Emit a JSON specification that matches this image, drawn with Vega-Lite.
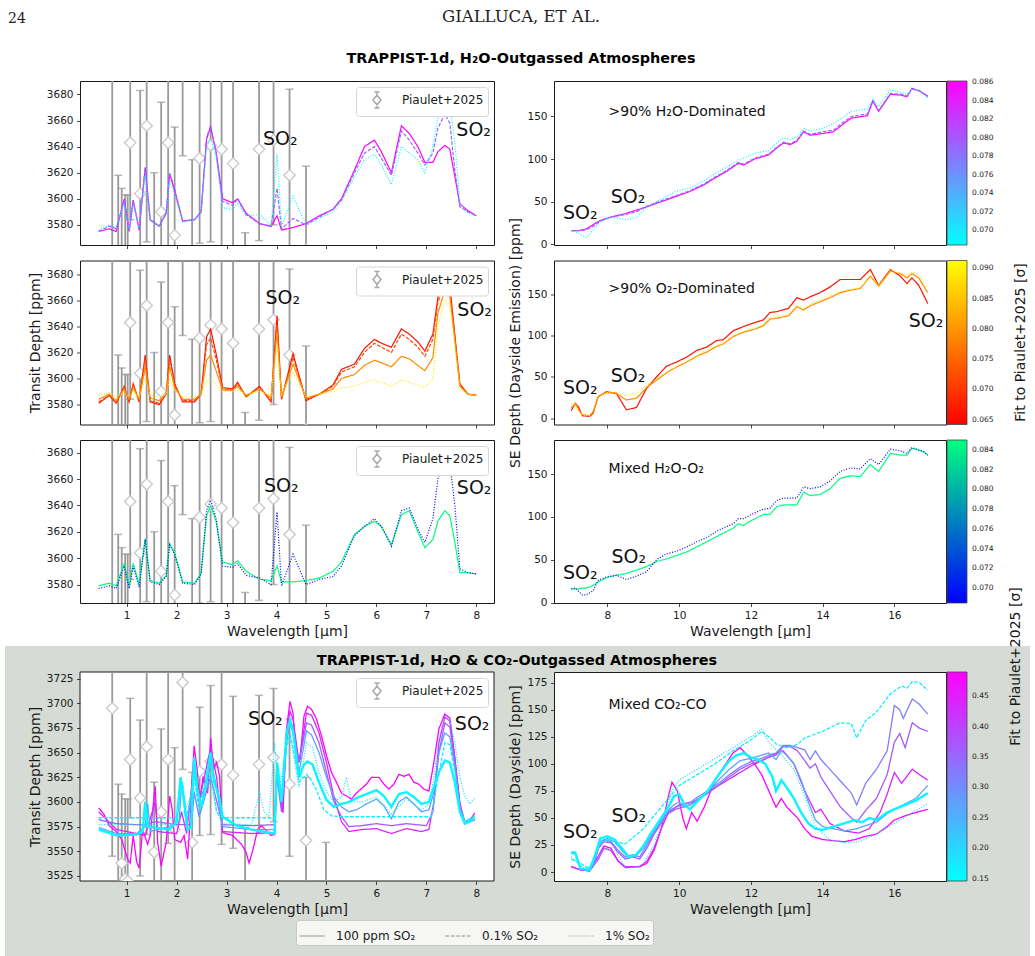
{
  "$schema": "https://vega.github.io/schema/vega-lite/v6.json",
  "background": "white",
  "padding": {"top": 8, "left": 5, "right": 5, "bottom": 0},
  "config": {
    "font": "DejaVu Sans",
    "view": {"stroke": "#1a1a1a", "strokeWidth": 1},
    "axis": {"grid": false, "domain": false, "labelFont": "DejaVu Sans", "labelFontSize": 10.5, "labelColor": "#1a1a1a", "labelOverlap": false, "titleFont": "DejaVu Sans", "titleFontSize": 14, "titleFontWeight": "normal", "titleColor": "#1a1a1a", "tickColor": "#1a1a1a", "tickSize": 3.5, "tickWidth": 0.8, "labelPadding": 3.5, "titlePadding": 4},
    "legend": {"labelFont": "DejaVu Sans", "titleFont": "DejaVu Sans"},
    "title": {"font": "DejaVu Sans"}
  },
  "datasets": {
    "runs": [
      {"r": "1a", "s": "100 ppm SO₂", "f": 0.086},
      {"r": "1b", "s": "0.1% SO₂", "f": 0.079},
      {"r": "1c", "s": "1% SO₂", "f": 0.069},
      {"r": "2a", "s": "100 ppm SO₂", "f": 0.066},
      {"r": "2d", "s": "0.1% SO₂", "f": 0.072},
      {"r": "2b", "s": "100 ppm SO₂", "f": 0.079},
      {"r": "2c", "s": "1% SO₂", "f": 0.089},
      {"r": "3a", "s": "100 ppm SO₂", "f": 0.085},
      {"r": "3b", "s": "1% SO₂", "f": 0.069},
      {"r": "4a", "s": "100 ppm SO₂", "f": 0.485},
      {"r": "4h", "s": "100 ppm SO₂", "f": 0.44},
      {"r": "4b", "s": "100 ppm SO₂", "f": 0.37},
      {"r": "4g", "s": "100 ppm SO₂", "f": 0.32},
      {"r": "4c", "s": "100 ppm SO₂", "f": 0.27},
      {"r": "4d", "s": "100 ppm SO₂", "f": 0.16},
      {"r": "4e", "s": "0.1% SO₂", "f": 0.17},
      {"r": "4f", "s": "1% SO₂", "f": 0.19}
    ],
    "obs": [
      {"w": 0.71, "d": 3695, "lo": 3545, "hi": 3845},
      {"w": 0.83, "d": 3510, "lo": 3402, "hi": 3618},
      {"w": 0.90, "d": 3538, "lo": 3468, "hi": 3608},
      {"w": 0.97, "d": 3522, "lo": 3441, "hi": 3603},
      {"w": 1.02, "d": 3520, "lo": 3437, "hi": 3603},
      {"w": 1.07, "d": 3643, "lo": 3584, "hi": 3705},
      {"w": 1.27, "d": 3604, "lo": 3525, "hi": 3683},
      {"w": 1.40, "d": 3656, "lo": 3567, "hi": 3745},
      {"w": 1.55, "d": 3549, "lo": 3478, "hi": 3620},
      {"w": 1.69, "d": 3590, "lo": 3506, "hi": 3674},
      {"w": 1.83, "d": 3643, "lo": 3558, "hi": 3745},
      {"w": 1.96, "d": 3572, "lo": 3489, "hi": 3655},
      {"w": 2.12, "d": 3721, "lo": 3633, "hi": 3809},
      {"w": 2.31, "d": 3559, "lo": 3488, "hi": 3630},
      {"w": 2.46, "d": 3631, "lo": 3566, "hi": 3696},
      {"w": 2.68, "d": 3641, "lo": 3567, "hi": 3718},
      {"w": 2.90, "d": 3638, "lo": 3557, "hi": 3740},
      {"w": 3.13, "d": 3627, "lo": 3553, "hi": 3707},
      {"w": 3.37, "d": 3500, "lo": 3426, "hi": 3574},
      {"w": 3.65, "d": 3638, "lo": 3568, "hi": 3708},
      {"w": 3.94, "d": 3645, "lo": 3580, "hi": 3715},
      {"w": 4.26, "d": 3618, "lo": 3545, "hi": 3684},
      {"w": 4.59, "d": 3561, "lo": 3497, "hi": 3625},
      {"w": 4.99, "d": 3490, "lo": 3421, "hi": 3559}
    ],
    "t1": [
      {"r":"1a","w":0.44,"d":3575},{"r":"1a","w":0.65,"d":3577},{"r":"1a","w":0.79,"d":3575},{"r":"1a","w":0.95,"d":3600},{"r":"1a","w":1.05,"d":3575},{"r":"1a","w":1.13,"d":3599},{"r":"1a","w":1.25,"d":3576},{"r":"1a","w":1.37,"d":3624},{"r":"1a","w":1.47,"d":3584},{"r":"1a","w":1.65,"d":3579},{"r":"1a","w":1.79,"d":3589},{"r":"1a","w":1.86,"d":3619},{"r":"1a","w":1.96,"d":3606},{"r":"1a","w":2.12,"d":3583},{"r":"1a","w":2.36,"d":3584},{"r":"1a","w":2.49,"d":3590},{"r":"1a","w":2.60,"d":3646},{"r":"1a","w":2.68,"d":3655},{"r":"1a","w":2.79,"d":3636},{"r":"1a","w":2.92,"d":3600},{"r":"1a","w":3.12,"d":3597},{"r":"1a","w":3.22,"d":3600},{"r":"1a","w":3.39,"d":3589},{"r":"1a","w":3.66,"d":3581},{"r":"1a","w":3.89,"d":3579},{"r":"1a","w":4.01,"d":3587},{"r":"1a","w":4.10,"d":3576},{"r":"1a","w":4.33,"d":3578},{"r":"1a","w":4.59,"d":3581},{"r":"1a","w":4.86,"d":3587},{"r":"1a","w":5.13,"d":3592},{"r":"1a","w":5.30,"d":3600},{"r":"1a","w":5.56,"d":3622},{"r":"1a","w":5.76,"d":3640},{"r":"1a","w":5.96,"d":3645},{"r":"1a","w":6.10,"d":3636},{"r":"1a","w":6.30,"d":3620},{"r":"1a","w":6.50,"d":3656},{"r":"1a","w":6.66,"d":3650},{"r":"1a","w":6.83,"d":3640},{"r":"1a","w":6.97,"d":3628},{"r":"1a","w":7.13,"d":3628},{"r":"1a","w":7.23,"d":3636},{"r":"1a","w":7.37,"d":3641},{"r":"1a","w":7.47,"d":3638},{"r":"1a","w":7.57,"d":3617},{"r":"1a","w":7.67,"d":3596},{"r":"1a","w":7.83,"d":3591},{"r":"1a","w":8.00,"d":3587},
      {"r":"1b","w":0.44,"d":3575},{"r":"1b","w":0.65,"d":3579},{"r":"1b","w":0.79,"d":3577},{"r":"1b","w":0.95,"d":3599},{"r":"1b","w":1.05,"d":3576},{"r":"1b","w":1.13,"d":3598},{"r":"1b","w":1.25,"d":3577},{"r":"1b","w":1.37,"d":3624},{"r":"1b","w":1.47,"d":3584},{"r":"1b","w":1.65,"d":3579},{"r":"1b","w":1.79,"d":3589},{"r":"1b","w":1.86,"d":3620},{"r":"1b","w":1.96,"d":3608},{"r":"1b","w":2.12,"d":3583},{"r":"1b","w":2.36,"d":3584},{"r":"1b","w":2.49,"d":3590},{"r":"1b","w":2.60,"d":3647},{"r":"1b","w":2.68,"d":3656},{"r":"1b","w":2.79,"d":3635},{"r":"1b","w":2.92,"d":3598},{"r":"1b","w":3.12,"d":3595},{"r":"1b","w":3.22,"d":3600},{"r":"1b","w":3.39,"d":3588},{"r":"1b","w":3.66,"d":3581},{"r":"1b","w":3.89,"d":3579},{"r":"1b","w":4.01,"d":3608},{"r":"1b","w":4.10,"d":3577},{"r":"1b","w":4.33,"d":3585},{"r":"1b","w":4.59,"d":3580},{"r":"1b","w":4.86,"d":3586},{"r":"1b","w":5.13,"d":3592},{"r":"1b","w":5.30,"d":3599},{"r":"1b","w":5.56,"d":3620},{"r":"1b","w":5.76,"d":3635},{"r":"1b","w":5.96,"d":3640},{"r":"1b","w":6.10,"d":3631},{"r":"1b","w":6.30,"d":3618},{"r":"1b","w":6.50,"d":3652},{"r":"1b","w":6.66,"d":3645},{"r":"1b","w":6.83,"d":3635},{"r":"1b","w":6.97,"d":3626},{"r":"1b","w":7.13,"d":3635},{"r":"1b","w":7.23,"d":3654},{"r":"1b","w":7.37,"d":3665},{"r":"1b","w":7.47,"d":3658},{"r":"1b","w":7.57,"d":3622},{"r":"1b","w":7.67,"d":3594},{"r":"1b","w":7.83,"d":3590},{"r":"1b","w":8.00,"d":3587},
      {"r":"1c","w":0.44,"d":3576},{"r":"1c","w":0.65,"d":3580},{"r":"1c","w":0.79,"d":3578},{"r":"1c","w":0.95,"d":3597},{"r":"1c","w":1.05,"d":3577},{"r":"1c","w":1.13,"d":3596},{"r":"1c","w":1.25,"d":3578},{"r":"1c","w":1.37,"d":3618},{"r":"1c","w":1.47,"d":3583},{"r":"1c","w":1.65,"d":3579},{"r":"1c","w":1.79,"d":3588},{"r":"1c","w":1.86,"d":3614},{"r":"1c","w":1.96,"d":3604},{"r":"1c","w":2.12,"d":3582},{"r":"1c","w":2.36,"d":3584},{"r":"1c","w":2.49,"d":3589},{"r":"1c","w":2.60,"d":3640},{"r":"1c","w":2.68,"d":3646},{"r":"1c","w":2.79,"d":3632},{"r":"1c","w":2.92,"d":3593},{"r":"1c","w":3.12,"d":3592},{"r":"1c","w":3.22,"d":3597},{"r":"1c","w":3.39,"d":3587},{"r":"1c","w":3.66,"d":3588},{"r":"1c","w":3.89,"d":3580},{"r":"1c","w":4.01,"d":3634},{"r":"1c","w":4.10,"d":3579},{"r":"1c","w":4.33,"d":3602},{"r":"1c","w":4.59,"d":3580},{"r":"1c","w":4.86,"d":3585},{"r":"1c","w":5.13,"d":3590},{"r":"1c","w":5.30,"d":3598},{"r":"1c","w":5.56,"d":3617},{"r":"1c","w":5.76,"d":3630},{"r":"1c","w":5.96,"d":3634},{"r":"1c","w":6.10,"d":3626},{"r":"1c","w":6.30,"d":3611},{"r":"1c","w":6.50,"d":3640},{"r":"1c","w":6.66,"d":3635},{"r":"1c","w":6.83,"d":3630},{"r":"1c","w":6.97,"d":3620},{"r":"1c","w":7.13,"d":3640},{"r":"1c","w":7.23,"d":3662},{"r":"1c","w":7.37,"d":3676},{"r":"1c","w":7.47,"d":3672},{"r":"1c","w":7.57,"d":3643},{"r":"1c","w":7.67,"d":3597},{"r":"1c","w":7.83,"d":3589},{"r":"1c","w":8.00,"d":3587}
    ],
    "t2": [
      {"r":"2a","w":0.44,"d":3581},{"r":"2a","w":0.65,"d":3587},{"r":"2a","w":0.79,"d":3581},{"r":"2a","w":0.95,"d":3594},{"r":"2a","w":1.05,"d":3582},{"r":"2a","w":1.13,"d":3596},{"r":"2a","w":1.25,"d":3582},{"r":"2a","w":1.37,"d":3618},{"r":"2a","w":1.47,"d":3582},{"r":"2a","w":1.65,"d":3580},{"r":"2a","w":1.79,"d":3588},{"r":"2a","w":1.86,"d":3618},{"r":"2a","w":1.96,"d":3596},{"r":"2a","w":2.12,"d":3582},{"r":"2a","w":2.36,"d":3582},{"r":"2a","w":2.49,"d":3588},{"r":"2a","w":2.60,"d":3632},{"r":"2a","w":2.68,"d":3638},{"r":"2a","w":2.79,"d":3619},{"r":"2a","w":2.92,"d":3593},{"r":"2a","w":3.12,"d":3592},{"r":"2a","w":3.22,"d":3597},{"r":"2a","w":3.39,"d":3586},{"r":"2a","w":3.66,"d":3594},{"r":"2a","w":3.89,"d":3582},{"r":"2a","w":4.01,"d":3648},{"r":"2a","w":4.10,"d":3584},{"r":"2a","w":4.33,"d":3619},{"r":"2a","w":4.59,"d":3583},{"r":"2a","w":4.86,"d":3588},{"r":"2a","w":5.13,"d":3595},{"r":"2a","w":5.30,"d":3607},{"r":"2a","w":5.56,"d":3611},{"r":"2a","w":5.76,"d":3623},{"r":"2a","w":5.96,"d":3630},{"r":"2a","w":6.10,"d":3627},{"r":"2a","w":6.30,"d":3624},{"r":"2a","w":6.50,"d":3638},{"r":"2a","w":6.66,"d":3634},{"r":"2a","w":6.83,"d":3628},{"r":"2a","w":6.97,"d":3621},{"r":"2a","w":7.13,"d":3634},{"r":"2a","w":7.23,"d":3662},{"r":"2a","w":7.37,"d":3677},{"r":"2a","w":7.47,"d":3671},{"r":"2a","w":7.57,"d":3633},{"r":"2a","w":7.67,"d":3596},{"r":"2a","w":7.83,"d":3588},{"r":"2a","w":8.00,"d":3587},
      {"r":"2d","w":0.44,"d":3582},{"r":"2d","w":0.65,"d":3587},{"r":"2d","w":0.79,"d":3582},{"r":"2d","w":0.95,"d":3593},{"r":"2d","w":1.05,"d":3583},{"r":"2d","w":1.13,"d":3595},{"r":"2d","w":1.25,"d":3583},{"r":"2d","w":1.37,"d":3615},{"r":"2d","w":1.47,"d":3583},{"r":"2d","w":1.65,"d":3581},{"r":"2d","w":1.79,"d":3588},{"r":"2d","w":1.86,"d":3615},{"r":"2d","w":1.96,"d":3595},{"r":"2d","w":2.12,"d":3583},{"r":"2d","w":2.36,"d":3583},{"r":"2d","w":2.49,"d":3588},{"r":"2d","w":2.60,"d":3626},{"r":"2d","w":2.68,"d":3631},{"r":"2d","w":2.79,"d":3615},{"r":"2d","w":2.92,"d":3592},{"r":"2d","w":3.12,"d":3591},{"r":"2d","w":3.22,"d":3596},{"r":"2d","w":3.39,"d":3586},{"r":"2d","w":3.66,"d":3593},{"r":"2d","w":3.89,"d":3583},{"r":"2d","w":4.01,"d":3642},{"r":"2d","w":4.10,"d":3585},{"r":"2d","w":4.33,"d":3616},{"r":"2d","w":4.59,"d":3584},{"r":"2d","w":4.86,"d":3588},{"r":"2d","w":5.13,"d":3594},{"r":"2d","w":5.30,"d":3605},{"r":"2d","w":5.56,"d":3609},{"r":"2d","w":5.76,"d":3620},{"r":"2d","w":5.96,"d":3627},{"r":"2d","w":6.10,"d":3624},{"r":"2d","w":6.30,"d":3620},{"r":"2d","w":6.50,"d":3634},{"r":"2d","w":6.66,"d":3630},{"r":"2d","w":6.83,"d":3624},{"r":"2d","w":6.97,"d":3617},{"r":"2d","w":7.13,"d":3630},{"r":"2d","w":7.23,"d":3658},{"r":"2d","w":7.37,"d":3674},{"r":"2d","w":7.47,"d":3668},{"r":"2d","w":7.57,"d":3632},{"r":"2d","w":7.67,"d":3595},{"r":"2d","w":7.83,"d":3588},{"r":"2d","w":8.00,"d":3587},
      {"r":"2b","w":0.44,"d":3584},{"r":"2b","w":0.65,"d":3588},{"r":"2b","w":0.79,"d":3583},{"r":"2b","w":0.95,"d":3592},{"r":"2b","w":1.05,"d":3584},{"r":"2b","w":1.13,"d":3593},{"r":"2b","w":1.25,"d":3584},{"r":"2b","w":1.37,"d":3609},{"r":"2b","w":1.47,"d":3585},{"r":"2b","w":1.65,"d":3583},{"r":"2b","w":1.79,"d":3588},{"r":"2b","w":1.86,"d":3609},{"r":"2b","w":1.96,"d":3593},{"r":"2b","w":2.12,"d":3584},{"r":"2b","w":2.36,"d":3584},{"r":"2b","w":2.49,"d":3588},{"r":"2b","w":2.60,"d":3614},{"r":"2b","w":2.68,"d":3618},{"r":"2b","w":2.79,"d":3606},{"r":"2b","w":2.92,"d":3591},{"r":"2b","w":3.12,"d":3591},{"r":"2b","w":3.22,"d":3594},{"r":"2b","w":3.39,"d":3587},{"r":"2b","w":3.66,"d":3592},{"r":"2b","w":3.89,"d":3585},{"r":"2b","w":4.01,"d":3636},{"r":"2b","w":4.10,"d":3586},{"r":"2b","w":4.33,"d":3611},{"r":"2b","w":4.59,"d":3585},{"r":"2b","w":4.86,"d":3588},{"r":"2b","w":5.13,"d":3592},{"r":"2b","w":5.30,"d":3600},{"r":"2b","w":5.56,"d":3603},{"r":"2b","w":5.76,"d":3610},{"r":"2b","w":5.96,"d":3614},{"r":"2b","w":6.10,"d":3612},{"r":"2b","w":6.30,"d":3609},{"r":"2b","w":6.50,"d":3617},{"r":"2b","w":6.66,"d":3615},{"r":"2b","w":6.83,"d":3610},{"r":"2b","w":6.97,"d":3606},{"r":"2b","w":7.13,"d":3616},{"r":"2b","w":7.23,"d":3650},{"r":"2b","w":7.37,"d":3668},{"r":"2b","w":7.47,"d":3663},{"r":"2b","w":7.57,"d":3629},{"r":"2b","w":7.67,"d":3594},{"r":"2b","w":7.83,"d":3588},{"r":"2b","w":8.00,"d":3587},
      {"r":"2c","w":0.44,"d":3587},{"r":"2c","w":0.65,"d":3589},{"r":"2c","w":0.79,"d":3586},{"r":"2c","w":0.95,"d":3589},{"r":"2c","w":1.05,"d":3586},{"r":"2c","w":1.13,"d":3590},{"r":"2c","w":1.25,"d":3586},{"r":"2c","w":1.37,"d":3600},{"r":"2c","w":1.47,"d":3587},{"r":"2c","w":1.65,"d":3586},{"r":"2c","w":1.79,"d":3588},{"r":"2c","w":1.86,"d":3600},{"r":"2c","w":1.96,"d":3591},{"r":"2c","w":2.12,"d":3586},{"r":"2c","w":2.36,"d":3586},{"r":"2c","w":2.49,"d":3588},{"r":"2c","w":2.60,"d":3598},{"r":"2c","w":2.68,"d":3600},{"r":"2c","w":2.79,"d":3595},{"r":"2c","w":2.92,"d":3590},{"r":"2c","w":3.12,"d":3590},{"r":"2c","w":3.22,"d":3591},{"r":"2c","w":3.39,"d":3588},{"r":"2c","w":3.66,"d":3590},{"r":"2c","w":3.89,"d":3587},{"r":"2c","w":4.01,"d":3625},{"r":"2c","w":4.10,"d":3588},{"r":"2c","w":4.33,"d":3605},{"r":"2c","w":4.59,"d":3586},{"r":"2c","w":4.86,"d":3588},{"r":"2c","w":5.13,"d":3590},{"r":"2c","w":5.30,"d":3593},{"r":"2c","w":5.56,"d":3594},{"r":"2c","w":5.76,"d":3597},{"r":"2c","w":5.96,"d":3599},{"r":"2c","w":6.10,"d":3597},{"r":"2c","w":6.30,"d":3594},{"r":"2c","w":6.50,"d":3599},{"r":"2c","w":6.66,"d":3597},{"r":"2c","w":6.83,"d":3595},{"r":"2c","w":6.97,"d":3593},{"r":"2c","w":7.13,"d":3600},{"r":"2c","w":7.23,"d":3640},{"r":"2c","w":7.37,"d":3660},{"r":"2c","w":7.47,"d":3656},{"r":"2c","w":7.57,"d":3625},{"r":"2c","w":7.67,"d":3593},{"r":"2c","w":7.83,"d":3588},{"r":"2c","w":8.00,"d":3587}
    ],
    "t3": [
      {"r":"3a","w":0.44,"d":3579},{"r":"3a","w":0.65,"d":3581},{"r":"3a","w":0.79,"d":3579},{"r":"3a","w":0.95,"d":3596},{"r":"3a","w":1.05,"d":3579},{"r":"3a","w":1.13,"d":3596},{"r":"3a","w":1.25,"d":3580},{"r":"3a","w":1.37,"d":3615},{"r":"3a","w":1.47,"d":3583},{"r":"3a","w":1.65,"d":3581},{"r":"3a","w":1.79,"d":3587},{"r":"3a","w":1.86,"d":3611},{"r":"3a","w":1.96,"d":3604},{"r":"3a","w":2.12,"d":3582},{"r":"3a","w":2.36,"d":3581},{"r":"3a","w":2.49,"d":3589},{"r":"3a","w":2.60,"d":3632},{"r":"3a","w":2.68,"d":3640},{"r":"3a","w":2.79,"d":3628},{"r":"3a","w":2.92,"d":3597},{"r":"3a","w":3.12,"d":3595},{"r":"3a","w":3.22,"d":3598},{"r":"3a","w":3.39,"d":3590},{"r":"3a","w":3.66,"d":3584},{"r":"3a","w":3.89,"d":3583},{"r":"3a","w":4.01,"d":3594},{"r":"3a","w":4.10,"d":3582},{"r":"3a","w":4.33,"d":3582},{"r":"3a","w":4.59,"d":3583},{"r":"3a","w":4.86,"d":3585},{"r":"3a","w":5.13,"d":3590},{"r":"3a","w":5.30,"d":3597},{"r":"3a","w":5.56,"d":3618},{"r":"3a","w":5.76,"d":3624},{"r":"3a","w":5.96,"d":3628},{"r":"3a","w":6.10,"d":3624},{"r":"3a","w":6.30,"d":3610},{"r":"3a","w":6.50,"d":3633},{"r":"3a","w":6.66,"d":3636},{"r":"3a","w":6.83,"d":3620},{"r":"3a","w":6.97,"d":3608},{"r":"3a","w":7.13,"d":3614},{"r":"3a","w":7.23,"d":3628},{"r":"3a","w":7.37,"d":3636},{"r":"3a","w":7.47,"d":3632},{"r":"3a","w":7.57,"d":3612},{"r":"3a","w":7.67,"d":3589},{"r":"3a","w":7.83,"d":3589},{"r":"3a","w":8.00,"d":3588},
      {"r":"3b","w":0.44,"d":3577},{"r":"3b","w":0.65,"d":3579},{"r":"3b","w":0.79,"d":3577},{"r":"3b","w":0.95,"d":3594},{"r":"3b","w":1.05,"d":3577},{"r":"3b","w":1.13,"d":3594},{"r":"3b","w":1.25,"d":3578},{"r":"3b","w":1.37,"d":3614},{"r":"3b","w":1.47,"d":3582},{"r":"3b","w":1.65,"d":3580},{"r":"3b","w":1.79,"d":3586},{"r":"3b","w":1.86,"d":3610},{"r":"3b","w":1.96,"d":3603},{"r":"3b","w":2.12,"d":3581},{"r":"3b","w":2.36,"d":3580},{"r":"3b","w":2.49,"d":3588},{"r":"3b","w":2.60,"d":3636},{"r":"3b","w":2.68,"d":3644},{"r":"3b","w":2.79,"d":3630},{"r":"3b","w":2.92,"d":3594},{"r":"3b","w":3.12,"d":3593},{"r":"3b","w":3.22,"d":3596},{"r":"3b","w":3.39,"d":3587},{"r":"3b","w":3.66,"d":3585},{"r":"3b","w":3.89,"d":3580},{"r":"3b","w":4.01,"d":3635},{"r":"3b","w":4.10,"d":3579},{"r":"3b","w":4.33,"d":3603},{"r":"3b","w":4.59,"d":3580},{"r":"3b","w":4.86,"d":3584},{"r":"3b","w":5.13,"d":3586},{"r":"3b","w":5.30,"d":3594},{"r":"3b","w":5.56,"d":3617},{"r":"3b","w":5.76,"d":3624},{"r":"3b","w":5.96,"d":3630},{"r":"3b","w":6.10,"d":3624},{"r":"3b","w":6.30,"d":3609},{"r":"3b","w":6.50,"d":3636},{"r":"3b","w":6.66,"d":3638},{"r":"3b","w":6.83,"d":3622},{"r":"3b","w":6.97,"d":3612},{"r":"3b","w":7.13,"d":3630},{"r":"3b","w":7.23,"d":3660},{"r":"3b","w":7.37,"d":3677},{"r":"3b","w":7.47,"d":3672},{"r":"3b","w":7.57,"d":3640},{"r":"3b","w":7.67,"d":3592},{"r":"3b","w":7.83,"d":3589},{"r":"3b","w":8.00,"d":3588}
    ],
    "t4": [
      {"r":"4a","w":0.44,"d":3594},{"r":"4a","w":0.55,"d":3587},{"r":"4a","w":0.65,"d":3576},{"r":"4a","w":0.79,"d":3570},{"r":"4a","w":0.90,"d":3562},{"r":"4a","w":1.02,"d":3542},{"r":"4a","w":1.07,"d":3538},{"r":"4a","w":1.13,"d":3566},{"r":"4a","w":1.20,"d":3539},{"r":"4a","w":1.25,"d":3533},{"r":"4a","w":1.32,"d":3572},{"r":"4a","w":1.42,"d":3557},{"r":"4a","w":1.47,"d":3566},{"r":"4a","w":1.57,"d":3616},{"r":"4a","w":1.62,"d":3559},{"r":"4a","w":1.69,"d":3535},{"r":"4a","w":1.79,"d":3559},{"r":"4a","w":1.86,"d":3606},{"r":"4a","w":1.91,"d":3593},{"r":"4a","w":1.96,"d":3562},{"r":"4a","w":2.08,"d":3559},{"r":"4a","w":2.15,"d":3566},{"r":"4a","w":2.22,"d":3542},{"r":"4a","w":2.29,"d":3599},{"r":"4a","w":2.35,"d":3657},{"r":"4a","w":2.41,"d":3633},{"r":"4a","w":2.46,"d":3599},{"r":"4a","w":2.53,"d":3626},{"r":"4a","w":2.62,"d":3609},{"r":"4a","w":2.68,"d":3665},{"r":"4a","w":2.74,"d":3633},{"r":"4a","w":2.80,"d":3640},{"r":"4a","w":2.86,"d":3626},{"r":"4a","w":2.92,"d":3569},{"r":"4a","w":3.12,"d":3566},{"r":"4a","w":3.30,"d":3557},{"r":"4a","w":3.39,"d":3549},{"r":"4a","w":3.45,"d":3538},{"r":"4a","w":3.53,"d":3552},{"r":"4a","w":3.62,"d":3572},{"r":"4a","w":3.70,"d":3576},{"r":"4a","w":3.89,"d":3566},{"r":"4a","w":3.96,"d":3567},{"r":"4a","w":4.01,"d":3630},{"r":"4a","w":4.06,"d":3616},{"r":"4a","w":4.13,"d":3589},{"r":"4a","w":4.20,"d":3674},{"r":"4a","w":4.27,"d":3702},{"r":"4a","w":4.33,"d":3690},{"r":"4a","w":4.40,"d":3640},{"r":"4a","w":4.47,"d":3643},{"r":"4a","w":4.55,"d":3687},{"r":"4a","w":4.62,"d":3697},{"r":"4a","w":4.70,"d":3694},{"r":"4a","w":4.80,"d":3684},{"r":"4a","w":4.90,"d":3667},{"r":"4a","w":5.00,"d":3647},{"r":"4a","w":5.10,"d":3630},{"r":"4a","w":5.20,"d":3620},{"r":"4a","w":5.30,"d":3609},{"r":"4a","w":5.40,"d":3606},{"r":"4a","w":5.50,"d":3603},{"r":"4a","w":5.60,"d":3609},{"r":"4a","w":5.80,"d":3618},{"r":"4a","w":5.90,"d":3625},{"r":"4a","w":6.05,"d":3625},{"r":"4a","w":6.15,"d":3618},{"r":"4a","w":6.25,"d":3613},{"r":"4a","w":6.35,"d":3618},{"r":"4a","w":6.45,"d":3628},{"r":"4a","w":6.55,"d":3626},{"r":"4a","w":6.65,"d":3628},{"r":"4a","w":6.75,"d":3620},{"r":"4a","w":6.85,"d":3618},{"r":"4a","w":6.95,"d":3613},{"r":"4a","w":7.05,"d":3611},{"r":"4a","w":7.15,"d":3640},{"r":"4a","w":7.25,"d":3674},{"r":"4a","w":7.37,"d":3689},{"r":"4a","w":7.47,"d":3685},{"r":"4a","w":7.57,"d":3643},{"r":"4a","w":7.67,"d":3599},{"r":"4a","w":7.77,"d":3579},{"r":"4a","w":7.87,"d":3581},{"r":"4a","w":7.97,"d":3589},
      {"r":"4h","w":0.44,"d":3590},{"r":"4h","w":0.80,"d":3572},{"r":"4h","w":1.20,"d":3568},{"r":"4h","w":1.37,"d":3566},{"r":"4h","w":1.57,"d":3600},{"r":"4h","w":1.62,"d":3570},{"r":"4h","w":2.00,"d":3568},{"r":"4h","w":2.10,"d":3590},{"r":"4h","w":2.20,"d":3568},{"r":"4h","w":2.35,"d":3640},{"r":"4h","w":2.45,"d":3600},{"r":"4h","w":2.68,"d":3655},{"r":"4h","w":2.80,"d":3625},{"r":"4h","w":2.92,"d":3570},{"r":"4h","w":3.50,"d":3568},{"r":"4h","w":3.96,"d":3569},{"r":"4h","w":4.01,"d":3632},{"r":"4h","w":4.10,"d":3595},{"r":"4h","w":4.20,"d":3668},{"r":"4h","w":4.27,"d":3692},{"r":"4h","w":4.33,"d":3684},{"r":"4h","w":4.45,"d":3640},{"r":"4h","w":4.60,"d":3690},{"r":"4h","w":4.70,"d":3688},{"r":"4h","w":4.85,"d":3670},{"r":"4h","w":5.00,"d":3640},{"r":"4h","w":5.15,"d":3605},{"r":"4h","w":5.30,"d":3580},{"r":"4h","w":5.45,"d":3570},{"r":"4h","w":5.70,"d":3572},{"r":"4h","w":6.00,"d":3573},{"r":"4h","w":6.30,"d":3568},{"r":"4h","w":6.60,"d":3573},{"r":"4h","w":6.90,"d":3570},{"r":"4h","w":7.05,"d":3572},{"r":"4h","w":7.15,"d":3600},{"r":"4h","w":7.25,"d":3660},{"r":"4h","w":7.37,"d":3686},{"r":"4h","w":7.47,"d":3682},{"r":"4h","w":7.57,"d":3645},{"r":"4h","w":7.67,"d":3598},{"r":"4h","w":7.77,"d":3578},{"r":"4h","w":7.97,"d":3582},
      {"r":"4b","w":0.44,"d":3582},{"r":"4b","w":0.80,"d":3578},{"r":"4b","w":1.20,"d":3577},{"r":"4b","w":1.37,"d":3577},{"r":"4b","w":1.57,"d":3580},{"r":"4b","w":2.00,"d":3577},{"r":"4b","w":2.30,"d":3577},{"r":"4b","w":2.35,"d":3610},{"r":"4b","w":2.45,"d":3585},{"r":"4b","w":2.68,"d":3625},{"r":"4b","w":2.78,"d":3605},{"r":"4b","w":2.92,"d":3577},{"r":"4b","w":3.50,"d":3576},{"r":"4b","w":3.96,"d":3577},{"r":"4b","w":4.01,"d":3625},{"r":"4b","w":4.10,"d":3590},{"r":"4b","w":4.20,"d":3660},{"r":"4b","w":4.27,"d":3683},{"r":"4b","w":4.33,"d":3675},{"r":"4b","w":4.45,"d":3640},{"r":"4b","w":4.60,"d":3680},{"r":"4b","w":4.70,"d":3678},{"r":"4b","w":4.85,"d":3660},{"r":"4b","w":5.00,"d":3630},{"r":"4b","w":5.15,"d":3600},{"r":"4b","w":5.30,"d":3585},{"r":"4b","w":5.45,"d":3575},{"r":"4b","w":5.70,"d":3576},{"r":"4b","w":6.00,"d":3578},{"r":"4b","w":6.30,"d":3576},{"r":"4b","w":6.60,"d":3578},{"r":"4b","w":7.00,"d":3576},{"r":"4b","w":7.13,"d":3590},{"r":"4b","w":7.25,"d":3650},{"r":"4b","w":7.37,"d":3680},{"r":"4b","w":7.47,"d":3676},{"r":"4b","w":7.57,"d":3640},{"r":"4b","w":7.67,"d":3595},{"r":"4b","w":7.77,"d":3578},{"r":"4b","w":7.97,"d":3582},
      {"r":"4c","w":0.44,"d":3574},{"r":"4c","w":0.80,"d":3568},{"r":"4c","w":1.20,"d":3568},{"r":"4c","w":1.37,"d":3575},{"r":"4c","w":1.42,"d":3598},{"r":"4c","w":1.47,"d":3570},{"r":"4c","w":1.86,"d":3575},{"r":"4c","w":2.05,"d":3580},{"r":"4c","w":2.10,"d":3620},{"r":"4c","w":2.20,"d":3575},{"r":"4c","w":2.35,"d":3630},{"r":"4c","w":2.45,"d":3600},{"r":"4c","w":2.60,"d":3620},{"r":"4c","w":2.68,"d":3640},{"r":"4c","w":2.78,"d":3620},{"r":"4c","w":2.92,"d":3575},{"r":"4c","w":3.50,"d":3572},{"r":"4c","w":3.96,"d":3572},{"r":"4c","w":4.01,"d":3640},{"r":"4c","w":4.10,"d":3600},{"r":"4c","w":4.20,"d":3665},{"r":"4c","w":4.27,"d":3680},{"r":"4c","w":4.33,"d":3670},{"r":"4c","w":4.45,"d":3630},{"r":"4c","w":4.60,"d":3672},{"r":"4c","w":4.70,"d":3668},{"r":"4c","w":4.85,"d":3650},{"r":"4c","w":5.00,"d":3625},{"r":"4c","w":5.15,"d":3605},{"r":"4c","w":5.30,"d":3595},{"r":"4c","w":5.45,"d":3590},{"r":"4c","w":5.60,"d":3592},{"r":"4c","w":5.80,"d":3598},{"r":"4c","w":6.00,"d":3603},{"r":"4c","w":6.15,"d":3596},{"r":"4c","w":6.30,"d":3583},{"r":"4c","w":6.45,"d":3600},{"r":"4c","w":6.60,"d":3605},{"r":"4c","w":6.75,"d":3598},{"r":"4c","w":6.90,"d":3590},{"r":"4c","w":7.05,"d":3592},{"r":"4c","w":7.15,"d":3610},{"r":"4c","w":7.25,"d":3650},{"r":"4c","w":7.37,"d":3670},{"r":"4c","w":7.47,"d":3666},{"r":"4c","w":7.57,"d":3635},{"r":"4c","w":7.67,"d":3595},{"r":"4c","w":7.77,"d":3580},{"r":"4c","w":7.97,"d":3585},
      {"r":"4d","w":0.44,"d":3572},{"r":"4d","w":0.80,"d":3566},{"r":"4d","w":1.20,"d":3567},{"r":"4d","w":1.32,"d":3570},{"r":"4d","w":1.37,"d":3600},{"r":"4d","w":1.42,"d":3575},{"r":"4d","w":1.86,"d":3572},{"r":"4d","w":2.00,"d":3580},{"r":"4d","w":2.08,"d":3625},{"r":"4d","w":2.15,"d":3600},{"r":"4d","w":2.22,"d":3572},{"r":"4d","w":2.29,"d":3575},{"r":"4d","w":2.35,"d":3645},{"r":"4d","w":2.42,"d":3610},{"r":"4d","w":2.50,"d":3595},{"r":"4d","w":2.60,"d":3625},{"r":"4d","w":2.68,"d":3650},{"r":"4d","w":2.75,"d":3620},{"r":"4d","w":2.85,"d":3605},{"r":"4d","w":2.92,"d":3585},{"r":"4d","w":3.20,"d":3576},{"r":"4d","w":3.50,"d":3572},{"r":"4d","w":3.96,"d":3568},{"r":"4d","w":4.01,"d":3640},{"r":"4d","w":4.10,"d":3600},{"r":"4d","w":4.20,"d":3670},{"r":"4d","w":4.27,"d":3683},{"r":"4d","w":4.33,"d":3672},{"r":"4d","w":4.45,"d":3625},{"r":"4d","w":4.55,"d":3638},{"r":"4d","w":4.62,"d":3641},{"r":"4d","w":4.72,"d":3638},{"r":"4d","w":4.85,"d":3620},{"r":"4d","w":5.00,"d":3602},{"r":"4d","w":5.15,"d":3595},{"r":"4d","w":5.30,"d":3598},{"r":"4d","w":5.45,"d":3600},{"r":"4d","w":5.60,"d":3604},{"r":"4d","w":5.80,"d":3608},{"r":"4d","w":6.00,"d":3612},{"r":"4d","w":6.15,"d":3606},{"r":"4d","w":6.30,"d":3595},{"r":"4d","w":6.45,"d":3608},{"r":"4d","w":6.60,"d":3610},{"r":"4d","w":6.75,"d":3605},{"r":"4d","w":6.90,"d":3598},{"r":"4d","w":7.05,"d":3600},{"r":"4d","w":7.15,"d":3615},{"r":"4d","w":7.25,"d":3630},{"r":"4d","w":7.37,"d":3642},{"r":"4d","w":7.47,"d":3640},{"r":"4d","w":7.57,"d":3620},{"r":"4d","w":7.67,"d":3590},{"r":"4d","w":7.77,"d":3578},{"r":"4d","w":7.97,"d":3583},
      {"r":"4e","w":0.44,"d":3584},{"r":"4e","w":2.00,"d":3584},{"r":"4e","w":2.05,"d":3600},{"r":"4e","w":2.12,"d":3620},{"r":"4e","w":2.20,"d":3584},{"r":"4e","w":2.35,"d":3625},{"r":"4e","w":2.45,"d":3590},{"r":"4e","w":2.68,"d":3630},{"r":"4e","w":2.80,"d":3590},{"r":"4e","w":2.92,"d":3584},{"r":"4e","w":3.96,"d":3584},{"r":"4e","w":4.01,"d":3640},{"r":"4e","w":4.10,"d":3600},{"r":"4e","w":4.20,"d":3655},{"r":"4e","w":4.27,"d":3668},{"r":"4e","w":4.33,"d":3655},{"r":"4e","w":4.45,"d":3620},{"r":"4e","w":4.60,"d":3628},{"r":"4e","w":4.70,"d":3622},{"r":"4e","w":4.80,"d":3612},{"r":"4e","w":4.95,"d":3592},{"r":"4e","w":5.10,"d":3586},{"r":"4e","w":5.30,"d":3585},{"r":"4e","w":7.10,"d":3585},{"r":"4e","w":7.20,"d":3615},{"r":"4e","w":7.37,"d":3660},{"r":"4e","w":7.47,"d":3658},{"r":"4e","w":7.57,"d":3630},{"r":"4e","w":7.67,"d":3592},{"r":"4e","w":7.77,"d":3580},{"r":"4e","w":7.97,"d":3586},
      {"r":"4f","w":0.44,"d":3577},{"r":"4f","w":2.00,"d":3577},{"r":"4f","w":2.35,"d":3610},{"r":"4f","w":2.45,"d":3585},{"r":"4f","w":2.68,"d":3625},{"r":"4f","w":2.80,"d":3590},{"r":"4f","w":2.92,"d":3578},{"r":"4f","w":3.50,"d":3577},{"r":"4f","w":3.66,"d":3610},{"r":"4f","w":3.75,"d":3590},{"r":"4f","w":3.85,"d":3585},{"r":"4f","w":3.96,"d":3660},{"r":"4f","w":4.05,"d":3610},{"r":"4f","w":4.20,"d":3660},{"r":"4f","w":4.27,"d":3668},{"r":"4f","w":4.33,"d":3650},{"r":"4f","w":4.45,"d":3615},{"r":"4f","w":4.60,"d":3660},{"r":"4f","w":4.72,"d":3655},{"r":"4f","w":4.85,"d":3630},{"r":"4f","w":5.00,"d":3610},{"r":"4f","w":5.15,"d":3600},{"r":"4f","w":5.30,"d":3605},{"r":"4f","w":5.40,"d":3625},{"r":"4f","w":5.50,"d":3600},{"r":"4f","w":5.70,"d":3600},{"r":"4f","w":6.00,"d":3605},{"r":"4f","w":6.30,"d":3588},{"r":"4f","w":6.60,"d":3603},{"r":"4f","w":6.90,"d":3592},{"r":"4f","w":7.05,"d":3598},{"r":"4f","w":7.15,"d":3625},{"r":"4f","w":7.25,"d":3665},{"r":"4f","w":7.37,"d":3685},{"r":"4f","w":7.47,"d":3683},{"r":"4f","w":7.57,"d":3660},{"r":"4f","w":7.67,"d":3625},{"r":"4f","w":7.77,"d":3605},{"r":"4f","w":7.87,"d":3598},{"r":"4f","w":7.97,"d":3604}
    ],
    "e1": [
      {"r":"1a","w":6.99,"d":16},{"r":"1a","w":7.2,"d":16},{"r":"1a","w":7.41,"d":18},{"r":"1a","w":7.6,"d":23},{"r":"1a","w":7.8,"d":28},{"r":"1a","w":8.1,"d":32},{"r":"1a","w":8.5,"d":36},{"r":"1a","w":8.8,"d":40},{"r":"1a","w":9.1,"d":44},{"r":"1a","w":9.5,"d":50},{"r":"1a","w":9.9,"d":56},{"r":"1a","w":10.3,"d":62},{"r":"1a","w":10.7,"d":70},{"r":"1a","w":11.0,"d":78},{"r":"1a","w":11.3,"d":85},{"r":"1a","w":11.65,"d":95},{"r":"1a","w":11.8,"d":93},{"r":"1a","w":12.1,"d":100},{"r":"1a","w":12.5,"d":105},{"r":"1a","w":12.72,"d":113},{"r":"1a","w":12.91,"d":119},{"r":"1a","w":13.1,"d":117},{"r":"1a","w":13.28,"d":121},{"r":"1a","w":13.47,"d":132},{"r":"1a","w":13.65,"d":128},{"r":"1a","w":14.0,"d":130},{"r":"1a","w":14.3,"d":132},{"r":"1a","w":14.6,"d":142},{"r":"1a","w":14.8,"d":148},{"r":"1a","w":15.1,"d":150},{"r":"1a","w":15.25,"d":151},{"r":"1a","w":15.4,"d":168},{"r":"1a","w":15.56,"d":156},{"r":"1a","w":15.89,"d":176},{"r":"1a","w":16.2,"d":175},{"r":"1a","w":16.35,"d":173},{"r":"1a","w":16.49,"d":183},{"r":"1a","w":16.7,"d":180},{"r":"1a","w":16.93,"d":174},
      {"r":"1b","w":6.99,"d":16},{"r":"1b","w":7.2,"d":16},{"r":"1b","w":7.41,"d":17},{"r":"1b","w":7.6,"d":21},{"r":"1b","w":7.8,"d":27},{"r":"1b","w":8.1,"d":32},{"r":"1b","w":8.5,"d":35},{"r":"1b","w":8.8,"d":38},{"r":"1b","w":9.1,"d":45},{"r":"1b","w":9.5,"d":51},{"r":"1b","w":9.9,"d":57},{"r":"1b","w":10.3,"d":63},{"r":"1b","w":10.7,"d":71},{"r":"1b","w":11.0,"d":79},{"r":"1b","w":11.3,"d":86},{"r":"1b","w":11.65,"d":96},{"r":"1b","w":11.8,"d":94},{"r":"1b","w":12.1,"d":101},{"r":"1b","w":12.5,"d":106},{"r":"1b","w":12.72,"d":114},{"r":"1b","w":12.91,"d":120},{"r":"1b","w":13.1,"d":118},{"r":"1b","w":13.28,"d":122},{"r":"1b","w":13.47,"d":133},{"r":"1b","w":13.65,"d":129},{"r":"1b","w":14.0,"d":132},{"r":"1b","w":14.3,"d":134},{"r":"1b","w":14.6,"d":144},{"r":"1b","w":14.8,"d":150},{"r":"1b","w":15.1,"d":152},{"r":"1b","w":15.25,"d":153},{"r":"1b","w":15.4,"d":169},{"r":"1b","w":15.56,"d":157},{"r":"1b","w":15.89,"d":177},{"r":"1b","w":16.2,"d":176},{"r":"1b","w":16.35,"d":174},{"r":"1b","w":16.49,"d":182},{"r":"1b","w":16.7,"d":180},{"r":"1b","w":16.93,"d":173},
      {"r":"1c","w":6.99,"d":16},{"r":"1c","w":7.2,"d":13},{"r":"1c","w":7.41,"d":8},{"r":"1c","w":7.6,"d":17},{"r":"1c","w":7.8,"d":27},{"r":"1c","w":8.1,"d":32},{"r":"1c","w":8.5,"d":29},{"r":"1c","w":8.8,"d":31},{"r":"1c","w":9.1,"d":44},{"r":"1c","w":9.5,"d":53},{"r":"1c","w":9.9,"d":62},{"r":"1c","w":10.3,"d":66},{"r":"1c","w":10.7,"d":75},{"r":"1c","w":11.0,"d":83},{"r":"1c","w":11.3,"d":90},{"r":"1c","w":11.65,"d":99},{"r":"1c","w":11.8,"d":101},{"r":"1c","w":12.1,"d":107},{"r":"1c","w":12.5,"d":110},{"r":"1c","w":12.72,"d":119},{"r":"1c","w":12.91,"d":125},{"r":"1c","w":13.1,"d":123},{"r":"1c","w":13.28,"d":126},{"r":"1c","w":13.47,"d":136},{"r":"1c","w":13.65,"d":133},{"r":"1c","w":14.0,"d":136},{"r":"1c","w":14.3,"d":142},{"r":"1c","w":14.6,"d":150},{"r":"1c","w":14.8,"d":156},{"r":"1c","w":15.1,"d":158},{"r":"1c","w":15.25,"d":159},{"r":"1c","w":15.4,"d":170},{"r":"1c","w":15.56,"d":162},{"r":"1c","w":15.89,"d":181},{"r":"1c","w":16.2,"d":178},{"r":"1c","w":16.35,"d":176},{"r":"1c","w":16.49,"d":182},{"r":"1c","w":16.7,"d":181},{"r":"1c","w":16.93,"d":172}
    ],
    "e2": [
      {"r":"2a","w":6.99,"d":9},{"r":"2a","w":7.1,"d":18},{"r":"2a","w":7.2,"d":13},{"r":"2a","w":7.3,"d":3},{"r":"2a","w":7.5,"d":2},{"r":"2a","w":7.6,"d":6},{"r":"2a","w":7.74,"d":26},{"r":"2a","w":7.97,"d":32},{"r":"2a","w":8.25,"d":30},{"r":"2a","w":8.53,"d":10},{"r":"2a","w":8.81,"d":13},{"r":"2a","w":9.09,"d":36},{"r":"2a","w":9.37,"d":50},{"r":"2a","w":9.65,"d":63},{"r":"2a","w":9.93,"d":68},{"r":"2a","w":10.21,"d":74},{"r":"2a","w":10.49,"d":82},{"r":"2a","w":10.77,"d":86},{"r":"2a","w":11.04,"d":94},{"r":"2a","w":11.23,"d":95},{"r":"2a","w":11.51,"d":106},{"r":"2a","w":11.79,"d":111},{"r":"2a","w":12.12,"d":116},{"r":"2a","w":12.35,"d":119},{"r":"2a","w":12.53,"d":128},{"r":"2a","w":12.72,"d":129},{"r":"2a","w":13.05,"d":133},{"r":"2a","w":13.28,"d":146},{"r":"2a","w":13.47,"d":143},{"r":"2a","w":13.65,"d":147},{"r":"2a","w":13.93,"d":152},{"r":"2a","w":14.21,"d":159},{"r":"2a","w":14.49,"d":168},{"r":"2a","w":14.77,"d":168},{"r":"2a","w":15.05,"d":168},{"r":"2a","w":15.33,"d":180},{"r":"2a","w":15.56,"d":161},{"r":"2a","w":15.89,"d":180},{"r":"2a","w":16.17,"d":172},{"r":"2a","w":16.35,"d":163},{"r":"2a","w":16.49,"d":170},{"r":"2a","w":16.68,"d":161},{"r":"2a","w":16.93,"d":139},
      {"r":"2b","w":6.99,"d":12},{"r":"2b","w":7.1,"d":18},{"r":"2b","w":7.2,"d":10},{"r":"2b","w":7.3,"d":4},{"r":"2b","w":7.5,"d":3},{"r":"2b","w":7.6,"d":8},{"r":"2b","w":7.74,"d":26},{"r":"2b","w":7.97,"d":31},{"r":"2b","w":8.25,"d":30},{"r":"2b","w":8.53,"d":22},{"r":"2b","w":8.81,"d":24},{"r":"2b","w":9.09,"d":37},{"r":"2b","w":9.37,"d":46},{"r":"2b","w":9.65,"d":55},{"r":"2b","w":9.93,"d":62},{"r":"2b","w":10.21,"d":68},{"r":"2b","w":10.49,"d":75},{"r":"2b","w":10.77,"d":80},{"r":"2b","w":11.04,"d":87},{"r":"2b","w":11.23,"d":90},{"r":"2b","w":11.51,"d":99},{"r":"2b","w":11.79,"d":104},{"r":"2b","w":12.12,"d":108},{"r":"2b","w":12.35,"d":112},{"r":"2b","w":12.53,"d":120},{"r":"2b","w":12.72,"d":121},{"r":"2b","w":13.05,"d":124},{"r":"2b","w":13.28,"d":135},{"r":"2b","w":13.47,"d":131},{"r":"2b","w":13.65,"d":136},{"r":"2b","w":13.93,"d":141},{"r":"2b","w":14.21,"d":146},{"r":"2b","w":14.49,"d":152},{"r":"2b","w":14.77,"d":155},{"r":"2b","w":15.05,"d":157},{"r":"2b","w":15.33,"d":172},{"r":"2b","w":15.56,"d":160},{"r":"2b","w":15.89,"d":178},{"r":"2b","w":16.17,"d":175},{"r":"2b","w":16.35,"d":170},{"r":"2b","w":16.49,"d":175},{"r":"2b","w":16.68,"d":170},{"r":"2b","w":16.93,"d":152},
      {"r":"2c","w":6.99,"d":17},{"r":"2c","w":7.1,"d":17},{"r":"2c","w":7.2,"d":8},{"r":"2c","w":7.3,"d":4},{"r":"2c","w":7.5,"d":3},{"r":"2c","w":7.6,"d":9},{"r":"2c","w":7.74,"d":27},{"r":"2c","w":7.97,"d":31},{"r":"2c","w":8.25,"d":31},{"r":"2c","w":8.53,"d":27},{"r":"2c","w":8.81,"d":30},{"r":"2c","w":9.09,"d":40},{"r":"2c","w":9.37,"d":47},{"r":"2c","w":9.65,"d":56},{"r":"2c","w":9.93,"d":63},{"r":"2c","w":10.21,"d":69},{"r":"2c","w":10.49,"d":76},{"r":"2c","w":10.77,"d":82},{"r":"2c","w":11.04,"d":88},{"r":"2c","w":11.23,"d":91},{"r":"2c","w":11.51,"d":100},{"r":"2c","w":11.79,"d":105},{"r":"2c","w":12.12,"d":110},{"r":"2c","w":12.35,"d":114},{"r":"2c","w":12.53,"d":122},{"r":"2c","w":12.72,"d":123},{"r":"2c","w":13.05,"d":126},{"r":"2c","w":13.28,"d":137},{"r":"2c","w":13.47,"d":133},{"r":"2c","w":13.65,"d":138},{"r":"2c","w":13.93,"d":143},{"r":"2c","w":14.21,"d":148},{"r":"2c","w":14.49,"d":154},{"r":"2c","w":14.77,"d":156},{"r":"2c","w":15.05,"d":158},{"r":"2c","w":15.33,"d":173},{"r":"2c","w":15.56,"d":161},{"r":"2c","w":15.89,"d":179},{"r":"2c","w":16.17,"d":176},{"r":"2c","w":16.35,"d":173},{"r":"2c","w":16.49,"d":177},{"r":"2c","w":16.68,"d":173},{"r":"2c","w":16.93,"d":158}
    ],
    "e3": [
      {"r":"3a","w":6.99,"d":16},{"r":"3a","w":7.1,"d":16},{"r":"3a","w":7.2,"d":16},{"r":"3a","w":7.3,"d":17},{"r":"3a","w":7.41,"d":17},{"r":"3a","w":7.6,"d":20},{"r":"3a","w":7.74,"d":24},{"r":"3a","w":7.97,"d":29},{"r":"3a","w":8.25,"d":32},{"r":"3a","w":8.53,"d":34},{"r":"3a","w":8.81,"d":38},{"r":"3a","w":9.09,"d":42},{"r":"3a","w":9.37,"d":48},{"r":"3a","w":9.65,"d":51},{"r":"3a","w":9.93,"d":55},{"r":"3a","w":10.21,"d":59},{"r":"3a","w":10.49,"d":65},{"r":"3a","w":10.77,"d":71},{"r":"3a","w":11.04,"d":77},{"r":"3a","w":11.23,"d":81},{"r":"3a","w":11.51,"d":87},{"r":"3a","w":11.65,"d":92},{"r":"3a","w":11.79,"d":90},{"r":"3a","w":11.93,"d":94},{"r":"3a","w":12.12,"d":98},{"r":"3a","w":12.35,"d":103},{"r":"3a","w":12.53,"d":103},{"r":"3a","w":12.72,"d":112},{"r":"3a","w":12.91,"d":114},{"r":"3a","w":13.05,"d":114},{"r":"3a","w":13.28,"d":114},{"r":"3a","w":13.47,"d":129},{"r":"3a","w":13.65,"d":125},{"r":"3a","w":13.93,"d":126},{"r":"3a","w":14.21,"d":133},{"r":"3a","w":14.49,"d":145},{"r":"3a","w":14.77,"d":148},{"r":"3a","w":15.05,"d":147},{"r":"3a","w":15.33,"d":161},{"r":"3a","w":15.56,"d":153},{"r":"3a","w":15.89,"d":174},{"r":"3a","w":16.17,"d":172},{"r":"3a","w":16.35,"d":172},{"r":"3a","w":16.49,"d":180},{"r":"3a","w":16.68,"d":178},{"r":"3a","w":16.82,"d":176},{"r":"3a","w":16.93,"d":172},
      {"r":"3b","w":6.99,"d":16},{"r":"3b","w":7.1,"d":17},{"r":"3b","w":7.2,"d":13},{"r":"3b","w":7.3,"d":9},{"r":"3b","w":7.41,"d":9},{"r":"3b","w":7.6,"d":14},{"r":"3b","w":7.74,"d":26},{"r":"3b","w":7.97,"d":30},{"r":"3b","w":8.25,"d":32},{"r":"3b","w":8.53,"d":27},{"r":"3b","w":8.81,"d":31},{"r":"3b","w":9.09,"d":36},{"r":"3b","w":9.37,"d":50},{"r":"3b","w":9.65,"d":57},{"r":"3b","w":9.93,"d":60},{"r":"3b","w":10.21,"d":65},{"r":"3b","w":10.49,"d":71},{"r":"3b","w":10.77,"d":76},{"r":"3b","w":11.04,"d":83},{"r":"3b","w":11.23,"d":87},{"r":"3b","w":11.51,"d":92},{"r":"3b","w":11.65,"d":98},{"r":"3b","w":11.79,"d":98},{"r":"3b","w":11.93,"d":101},{"r":"3b","w":12.12,"d":105},{"r":"3b","w":12.35,"d":109},{"r":"3b","w":12.53,"d":110},{"r":"3b","w":12.72,"d":119},{"r":"3b","w":12.91,"d":122},{"r":"3b","w":13.05,"d":122},{"r":"3b","w":13.28,"d":122},{"r":"3b","w":13.47,"d":135},{"r":"3b","w":13.65,"d":133},{"r":"3b","w":13.93,"d":135},{"r":"3b","w":14.21,"d":142},{"r":"3b","w":14.49,"d":153},{"r":"3b","w":14.77,"d":157},{"r":"3b","w":15.05,"d":156},{"r":"3b","w":15.33,"d":168},{"r":"3b","w":15.56,"d":161},{"r":"3b","w":15.89,"d":179},{"r":"3b","w":16.17,"d":177},{"r":"3b","w":16.35,"d":174},{"r":"3b","w":16.49,"d":181},{"r":"3b","w":16.68,"d":178},{"r":"3b","w":16.82,"d":176},{"r":"3b","w":16.93,"d":172}
    ],
    "e4": [
      {"r":"4a","w":6.99,"d":5},{"r":"4a","w":7.25,"d":2},{"r":"4a","w":7.5,"d":1},{"r":"4a","w":7.75,"d":15},{"r":"4a","w":7.9,"d":24},{"r":"4a","w":8.1,"d":22},{"r":"4a","w":8.3,"d":10},{"r":"4a","w":8.5,"d":4},{"r":"4a","w":8.9,"d":5},{"r":"4a","w":9.1,"d":8},{"r":"4a","w":9.3,"d":20},{"r":"4a","w":9.5,"d":40},{"r":"4a","w":9.7,"d":70},{"r":"4a","w":9.8,"d":83},{"r":"4a","w":9.95,"d":75},{"r":"4a","w":10.1,"d":50},{"r":"4a","w":10.2,"d":40},{"r":"4a","w":10.35,"d":55},{"r":"4a","w":10.5,"d":47},{"r":"4a","w":10.7,"d":60},{"r":"4a","w":11.0,"d":85},{"r":"4a","w":11.3,"d":100},{"r":"4a","w":11.5,"d":110},{"r":"4a","w":11.7,"d":115},{"r":"4a","w":11.9,"d":108},{"r":"4a","w":12.1,"d":100},{"r":"4a","w":12.3,"d":90},{"r":"4a","w":12.5,"d":75},{"r":"4a","w":12.7,"d":60},{"r":"4a","w":12.85,"d":68},{"r":"4a","w":13.0,"d":60},{"r":"4a","w":13.3,"d":50},{"r":"4a","w":13.5,"d":40},{"r":"4a","w":13.7,"d":33},{"r":"4a","w":14.0,"d":30},{"r":"4a","w":14.3,"d":29},{"r":"4a","w":14.6,"d":28},{"r":"4a","w":14.9,"d":30},{"r":"4a","w":15.2,"d":33},{"r":"4a","w":15.5,"d":35},{"r":"4a","w":15.8,"d":42},{"r":"4a","w":16.0,"d":48},{"r":"4a","w":16.3,"d":52},{"r":"4a","w":16.6,"d":55},{"r":"4a","w":16.93,"d":58},
      {"r":"4h","w":6.99,"d":5},{"r":"4h","w":7.25,"d":2},{"r":"4h","w":7.5,"d":1},{"r":"4h","w":7.75,"d":12},{"r":"4h","w":7.9,"d":22},{"r":"4h","w":8.1,"d":20},{"r":"4h","w":8.3,"d":10},{"r":"4h","w":8.5,"d":5},{"r":"4h","w":8.9,"d":5},{"r":"4h","w":9.1,"d":10},{"r":"4h","w":9.3,"d":22},{"r":"4h","w":9.5,"d":40},{"r":"4h","w":9.7,"d":55},{"r":"4h","w":10.0,"d":62},{"r":"4h","w":10.5,"d":66},{"r":"4h","w":11.0,"d":78},{"r":"4h","w":11.5,"d":88},{"r":"4h","w":12.0,"d":98},{"r":"4h","w":12.3,"d":103},{"r":"4h","w":12.6,"d":108},{"r":"4h","w":12.9,"d":112},{"r":"4h","w":13.2,"d":100},{"r":"4h","w":13.5,"d":75},{"r":"4h","w":13.8,"d":55},{"r":"4h","w":13.95,"d":58},{"r":"4h","w":14.2,"d":45},{"r":"4h","w":14.6,"d":38},{"r":"4h","w":15.0,"d":36},{"r":"4h","w":15.3,"d":40},{"r":"4h","w":15.6,"d":55},{"r":"4h","w":15.8,"d":72},{"r":"4h","w":16.0,"d":92},{"r":"4h","w":16.2,"d":82},{"r":"4h","w":16.5,"d":95},{"r":"4h","w":16.7,"d":90},{"r":"4h","w":16.93,"d":85},
      {"r":"4b","w":6.99,"d":18},{"r":"4b","w":7.1,"d":18},{"r":"4b","w":7.25,"d":3},{"r":"4b","w":7.5,"d":2},{"r":"4b","w":7.6,"d":5},{"r":"4b","w":7.75,"d":22},{"r":"4b","w":7.9,"d":28},{"r":"4b","w":8.1,"d":27},{"r":"4b","w":8.3,"d":18},{"r":"4b","w":8.5,"d":12},{"r":"4b","w":8.7,"d":14},{"r":"4b","w":8.9,"d":12},{"r":"4b","w":9.1,"d":22},{"r":"4b","w":9.3,"d":35},{"r":"4b","w":9.5,"d":45},{"r":"4b","w":9.7,"d":54},{"r":"4b","w":9.9,"d":58},{"r":"4b","w":10.1,"d":60},{"r":"4b","w":10.3,"d":62},{"r":"4b","w":10.5,"d":67},{"r":"4b","w":10.8,"d":73},{"r":"4b","w":11.1,"d":80},{"r":"4b","w":11.4,"d":88},{"r":"4b","w":11.7,"d":95},{"r":"4b","w":12.0,"d":100},{"r":"4b","w":12.3,"d":103},{"r":"4b","w":12.5,"d":106},{"r":"4b","w":12.7,"d":108},{"r":"4b","w":12.9,"d":116},{"r":"4b","w":13.1,"d":116},{"r":"4b","w":13.3,"d":112},{"r":"4b","w":13.5,"d":103},{"r":"4b","w":13.65,"d":96},{"r":"4b","w":13.8,"d":100},{"r":"4b","w":13.95,"d":88},{"r":"4b","w":14.2,"d":75},{"r":"4b","w":14.5,"d":60},{"r":"4b","w":14.8,"d":50},{"r":"4b","w":14.95,"d":46},{"r":"4b","w":15.2,"d":57},{"r":"4b","w":15.5,"d":68},{"r":"4b","w":15.8,"d":90},{"r":"4b","w":16.0,"d":120},{"r":"4b","w":16.15,"d":128},{"r":"4b","w":16.3,"d":115},{"r":"4b","w":16.5,"d":138},{"r":"4b","w":16.7,"d":133},{"r":"4b","w":16.93,"d":130},
      {"r":"4g","w":6.99,"d":18},{"r":"4g","w":7.1,"d":18},{"r":"4g","w":7.25,"d":3},{"r":"4g","w":7.5,"d":2},{"r":"4g","w":7.6,"d":6},{"r":"4g","w":7.75,"d":24},{"r":"4g","w":7.9,"d":30},{"r":"4g","w":8.1,"d":28},{"r":"4g","w":8.3,"d":20},{"r":"4g","w":8.5,"d":14},{"r":"4g","w":8.7,"d":16},{"r":"4g","w":8.9,"d":14},{"r":"4g","w":9.1,"d":25},{"r":"4g","w":9.3,"d":37},{"r":"4g","w":9.5,"d":47},{"r":"4g","w":9.7,"d":56},{"r":"4g","w":9.9,"d":60},{"r":"4g","w":10.1,"d":62},{"r":"4g","w":10.3,"d":64},{"r":"4g","w":10.5,"d":69},{"r":"4g","w":10.8,"d":75},{"r":"4g","w":11.1,"d":82},{"r":"4g","w":11.4,"d":90},{"r":"4g","w":11.7,"d":97},{"r":"4g","w":12.0,"d":102},{"r":"4g","w":12.3,"d":105},{"r":"4g","w":12.5,"d":108},{"r":"4g","w":12.7,"d":110},{"r":"4g","w":12.9,"d":117},{"r":"4g","w":13.1,"d":117},{"r":"4g","w":13.3,"d":115},{"r":"4g","w":13.5,"d":113},{"r":"4g","w":13.65,"d":104},{"r":"4g","w":13.8,"d":112},{"r":"4g","w":13.95,"d":104},{"r":"4g","w":14.2,"d":95},{"r":"4g","w":14.5,"d":84},{"r":"4g","w":14.8,"d":73},{"r":"4g","w":14.95,"d":62},{"r":"4g","w":15.2,"d":82},{"r":"4g","w":15.5,"d":95},{"r":"4g","w":15.8,"d":112},{"r":"4g","w":16.0,"d":154},{"r":"4g","w":16.15,"d":150},{"r":"4g","w":16.25,"d":142},{"r":"4g","w":16.5,"d":160},{"r":"4g","w":16.7,"d":155},{"r":"4g","w":16.93,"d":146},
      {"r":"4c","w":6.99,"d":17},{"r":"4c","w":7.1,"d":17},{"r":"4c","w":7.25,"d":3},{"r":"4c","w":7.5,"d":2},{"r":"4c","w":7.65,"d":12},{"r":"4c","w":7.8,"d":28},{"r":"4c","w":8.0,"d":31},{"r":"4c","w":8.2,"d":28},{"r":"4c","w":8.4,"d":20},{"r":"4c","w":8.6,"d":13},{"r":"4c","w":8.8,"d":15},{"r":"4c","w":9.0,"d":22},{"r":"4c","w":9.2,"d":33},{"r":"4c","w":9.5,"d":48},{"r":"4c","w":9.7,"d":57},{"r":"4c","w":9.85,"d":62},{"r":"4c","w":10.0,"d":65},{"r":"4c","w":10.15,"d":60},{"r":"4c","w":10.3,"d":62},{"r":"4c","w":10.5,"d":66},{"r":"4c","w":10.8,"d":74},{"r":"4c","w":11.1,"d":85},{"r":"4c","w":11.4,"d":95},{"r":"4c","w":11.7,"d":103},{"r":"4c","w":12.0,"d":105},{"r":"4c","w":12.3,"d":108},{"r":"4c","w":12.5,"d":110},{"r":"4c","w":12.7,"d":104},{"r":"4c","w":12.85,"d":112},{"r":"4c","w":13.0,"d":108},{"r":"4c","w":13.2,"d":100},{"r":"4c","w":13.4,"d":85},{"r":"4c","w":13.6,"d":65},{"r":"4c","w":13.8,"d":48},{"r":"4c","w":14.0,"d":42},{"r":"4c","w":14.3,"d":40},{"r":"4c","w":14.6,"d":38},{"r":"4c","w":14.95,"d":40},{"r":"4c","w":15.2,"d":43},{"r":"4c","w":15.5,"d":46},{"r":"4c","w":15.8,"d":54},{"r":"4c","w":16.0,"d":58},{"r":"4c","w":16.3,"d":63},{"r":"4c","w":16.6,"d":68},{"r":"4c","w":16.93,"d":80},
      {"r":"4d","w":6.99,"d":18},{"r":"4d","w":7.1,"d":18},{"r":"4d","w":7.25,"d":3},{"r":"4d","w":7.5,"d":2},{"r":"4d","w":7.65,"d":15},{"r":"4d","w":7.8,"d":31},{"r":"4d","w":8.0,"d":33},{"r":"4d","w":8.2,"d":30},{"r":"4d","w":8.4,"d":22},{"r":"4d","w":8.6,"d":14},{"r":"4d","w":8.8,"d":16},{"r":"4d","w":9.0,"d":24},{"r":"4d","w":9.2,"d":35},{"r":"4d","w":9.5,"d":50},{"r":"4d","w":9.7,"d":60},{"r":"4d","w":9.85,"d":70},{"r":"4d","w":10.0,"d":72},{"r":"4d","w":10.15,"d":62},{"r":"4d","w":10.3,"d":58},{"r":"4d","w":10.5,"d":65},{"r":"4d","w":10.8,"d":75},{"r":"4d","w":11.1,"d":90},{"r":"4d","w":11.4,"d":103},{"r":"4d","w":11.6,"d":108},{"r":"4d","w":11.8,"d":110},{"r":"4d","w":12.0,"d":106},{"r":"4d","w":12.2,"d":104},{"r":"4d","w":12.4,"d":100},{"r":"4d","w":12.6,"d":88},{"r":"4d","w":12.7,"d":75},{"r":"4d","w":12.85,"d":85},{"r":"4d","w":13.0,"d":78},{"r":"4d","w":13.2,"d":68},{"r":"4d","w":13.4,"d":55},{"r":"4d","w":13.6,"d":45},{"r":"4d","w":13.8,"d":40},{"r":"4d","w":14.0,"d":39},{"r":"4d","w":14.3,"d":42},{"r":"4d","w":14.6,"d":45},{"r":"4d","w":14.9,"d":48},{"r":"4d","w":15.1,"d":46},{"r":"4d","w":15.3,"d":50},{"r":"4d","w":15.5,"d":48},{"r":"4d","w":15.8,"d":55},{"r":"4d","w":16.0,"d":58},{"r":"4d","w":16.3,"d":62},{"r":"4d","w":16.6,"d":66},{"r":"4d","w":16.93,"d":73},
      {"r":"4e","w":6.99,"d":12},{"r":"4e","w":7.25,"d":8},{"r":"4e","w":7.5,"d":3},{"r":"4e","w":7.8,"d":27},{"r":"4e","w":8.0,"d":30},{"r":"4e","w":8.5,"d":26},{"r":"4e","w":9.0,"d":40},{"r":"4e","w":9.5,"d":60},{"r":"4e","w":10.0,"d":80},{"r":"4e","w":10.5,"d":90},{"r":"4e","w":11.0,"d":100},{"r":"4e","w":11.5,"d":112},{"r":"4e","w":12.0,"d":122},{"r":"4e","w":12.3,"d":130},{"r":"4e","w":12.5,"d":125},{"r":"4e","w":12.72,"d":118},{"r":"4e","w":13.0,"d":115},{"r":"4e","w":13.3,"d":118},{"r":"4e","w":13.5,"d":124},{"r":"4e","w":14.0,"d":130},{"r":"4e","w":14.3,"d":135},{"r":"4e","w":14.5,"d":138},{"r":"4e","w":14.8,"d":137},{"r":"4e","w":14.95,"d":124},{"r":"4e","w":15.2,"d":140},{"r":"4e","w":15.5,"d":148},{"r":"4e","w":15.9,"d":165},{"r":"4e","w":16.2,"d":172},{"r":"4e","w":16.35,"d":170},{"r":"4e","w":16.5,"d":176},{"r":"4e","w":16.7,"d":175},{"r":"4e","w":16.93,"d":168},
      {"r":"4f","w":6.99,"d":14},{"r":"4f","w":7.3,"d":4},{"r":"4f","w":7.6,"d":5},{"r":"4f","w":7.9,"d":22},{"r":"4f","w":8.2,"d":20},{"r":"4f","w":8.5,"d":4},{"r":"4f","w":8.8,"d":4},{"r":"4f","w":9.0,"d":8},{"r":"4f","w":9.3,"d":25},{"r":"4f","w":9.6,"d":55},{"r":"4f","w":9.8,"d":75},{"r":"4f","w":10.0,"d":85},{"r":"4f","w":10.5,"d":95},{"r":"4f","w":11.0,"d":105},{"r":"4f","w":11.5,"d":115},{"r":"4f","w":12.0,"d":125},{"r":"4f","w":12.3,"d":132},{"r":"4f","w":12.5,"d":120},{"r":"4f","w":12.8,"d":110},{"r":"4f","w":13.2,"d":95},{"r":"4f","w":13.5,"d":70},{"r":"4f","w":13.8,"d":42},{"r":"4f","w":14.2,"d":30},{"r":"4f","w":14.6,"d":27},{"r":"4f","w":15.0,"d":28},{"r":"4f","w":15.5,"d":35},{"r":"4f","w":16.0,"d":45},{"r":"4f","w":16.5,"d":55},{"r":"4f","w":16.93,"d":63}
    ]
  },
  "columns": 2,
  "bounds": "flush",
  "align": "each",
  "spacing": {"row": 15.5, "column": 60},
  "resolve": {"scale": {"color": "independent", "strokeDash": "independent", "shape": "independent", "x": "independent", "y": "independent"}},
  "concat": [
    {
      "width": 414, "height": 164,
      "title": {"text": "GIALLUCA, ET AL.", "subtitle": "TRAPPIST-1d, H₂O-Outgassed Atmospheres", "anchor": "middle", "frame": "group", "dx": 234, "offset": 16, "font": "DejaVu Serif", "fontSize": 16.5, "fontWeight": "normal", "color": "#222222", "subtitleFont": "DejaVu Sans", "subtitleFontSize": 14.4, "subtitleFontWeight": "bold", "subtitleColor": "#000000", "subtitlePadding": 26},
      "layer": [
        {"data": {"name": "obs"}, "mark": {"type": "rule", "color": "#9a9a9a", "strokeWidth": 1.8, "clip": true},
         "encoding": {
           "x": {"field": "w", "type": "quantitative", "scale": {"domain": [0.065, 8.354], "nice": false, "zero": false}, "axis": {"values": [1,2,3,4,5,6,7,8], "tickCount": 20, "format": "d", "labels": false, "title": null}},
           "y": {"field": "lo", "type": "quantitative", "scale": {"domain": [3564.6, 3690.3], "nice": false, "zero": false}, "axis": {"values": [3580,3600,3620,3640,3660,3680], "tickCount": 20, "format": "d", "labelOverlap": false, "title": null}},
           "y2": {"field": "hi"}}},
        {"data": {"name": "obs"}, "mark": {"type": "tick", "orient": "horizontal", "color": "#9a9a9a", "thickness": 1.5, "size": 8, "clip": true}, "encoding": {"x": {"field": "w", "type": "quantitative"}, "y": {"field": "lo", "type": "quantitative"}}},
        {"data": {"name": "obs"}, "mark": {"type": "tick", "orient": "horizontal", "color": "#9a9a9a", "thickness": 1.5, "size": 8, "clip": true}, "encoding": {"x": {"field": "w", "type": "quantitative"}, "y": {"field": "hi", "type": "quantitative"}}},
        {"data": {"name": "obs"}, "mark": {"type": "point", "shape": "diamond", "filled": true, "fill": "white", "stroke": "#c8c8c8", "strokeWidth": 1.3, "size": 130, "opacity": 1, "clip": true},
         "encoding": {"x": {"field": "w", "type": "quantitative"}, "y": {"field": "d", "type": "quantitative"}}},
        {"data": {"values": [{"src": "Piaulet+2025"}]}, "mark": {"type": "point", "filled": false, "color": "#a8a8a8", "size": 0, "strokeWidth": 1.2},
         "encoding": {"shape": {"field": "src", "type": "nominal", "scale": {"range": ["M0,-0.6L0.5,0L0,0.6L-0.5,0Z M0,-1L0,-0.6 M0,0.6L0,1 M-0.32,-1L0.32,-1 M-0.32,1L0.32,1"]}, "legend": {"title": null, "orient": "top-right", "offset": 6, "padding": 4, "fillColor": "white", "strokeColor": "#d6d6d6", "cornerRadius": 3, "labelFontSize": 12, "labelColor": "#1a1a1a", "symbolSize": 260, "symbolOpacity": 1, "symbolOffset": 8, "labelOffset": 16}}}},
        {"data": {"name": "t1"}, "transform": [{"lookup": "r", "from": {"data": {"name": "runs"}, "key": "r", "fields": ["s", "f"]}}],
         "mark": {"type": "line", "strokeWidth": 1.2, "clip": true},
         "encoding": {
           "x": {"field": "w", "type": "quantitative"}, "y": {"field": "d", "type": "quantitative"},
           "color": {"field": "f", "type": "quantitative", "scale": {"domain": [0.0684, 0.08615], "range": ["#00ffff", "#ff00ff"], "interpolate": "rgb"}, "legend": null},
           "strokeDash": {"field": "s", "type": "nominal", "scale": {"domain": ["100 ppm SO₂", "0.1% SO₂", "1% SO₂"], "range": [[1,0],[3.7,1.6],[1,1.65]]}, "legend": null},
           "detail": {"field": "r"}}},
        {"data": {"values": [{"w": 3.73, "d": 3641, "label": "SO₂"}, {"w": 7.60, "d": 3648.5, "label": "SO₂"}]},
         "mark": {"type": "text", "align": "left", "baseline": "alphabetic", "fontSize": 19, "color": "#111111"},
         "encoding": {"x": {"field": "w", "type": "quantitative"}, "y": {"field": "d", "type": "quantitative"}, "text": {"field": "label"}}}
      ]
    },
    {
      "width": 392, "height": 164,
      "title": {"text": "24", "anchor": "start", "frame": "group", "dx": -546, "offset": 55, "font": "DejaVu Serif", "fontSize": 14, "fontWeight": "normal", "color": "#222222"},
      "layer": [
        {"data": {"name": "e1"}, "transform": [{"lookup": "r", "from": {"data": {"name": "runs"}, "key": "r", "fields": ["s", "f"]}}],
         "mark": {"type": "line", "strokeWidth": 1.2, "clip": true},
         "encoding": {
           "x": {"field": "w", "type": "quantitative", "scale": {"domain": [6.51, 17.44], "nice": false, "zero": false}, "axis": {"values": [8,10,12,14,16], "tickCount": 20, "format": "d", "labels": false, "title": null}},
           "y": {"field": "d", "type": "quantitative", "scale": {"domain": [-0.8, 191.6], "nice": false, "zero": false}, "axis": {"values": [0,50,100,150], "tickCount": 20, "format": "d", "labelOverlap": false, "title": null}},
           "color": {"field": "f", "type": "quantitative", "scale": {"domain": [0.0684, 0.08615], "range": ["#00ffff", "#ff00ff"], "interpolate": "rgb"},
             "legend": {"type": "gradient", "orient": "right", "offset": 1, "title": null, "gradientLength": 164, "gradientThickness": 20, "gradientStrokeColor": "#444444", "gradientStrokeWidth": 0.8, "labelFontSize": 7.5, "labelOffset": 5, "labelOverlap": false, "labelColor": "#1a1a1a", "padding": 0, "values": [0.070,0.072,0.074,0.076,0.078,0.080,0.082,0.084,0.086], "format": ".3f"}},
           "strokeDash": {"field": "s", "type": "nominal", "scale": {"domain": ["100 ppm SO₂", "0.1% SO₂", "1% SO₂"], "range": [[1,0],[3.7,1.6],[1,1.65]]}, "legend": null},
           "detail": {"field": "r"}}},
        {"data": {"values": [{"w": 6.76, "d": 29.5, "label": "SO₂"}, {"w": 8.09, "d": 48.3, "label": "SO₂"}]},
         "mark": {"type": "text", "align": "left", "baseline": "alphabetic", "fontSize": 19, "color": "#111111"},
         "encoding": {"x": {"field": "w", "type": "quantitative"}, "y": {"field": "d", "type": "quantitative"}, "text": {"field": "label"}}},
        {"data": {"values": [{"w": 8.03, "d": 151, "label": ">90% H₂O-Dominated"}]},
         "mark": {"type": "text", "align": "left", "baseline": "alphabetic", "fontSize": 14, "color": "#111111"},
         "encoding": {"x": {"field": "w", "type": "quantitative"}, "y": {"field": "d", "type": "quantitative"}, "text": {"field": "label"}}}
      ]
    },
    {
      "width": 414, "height": 164,
      "layer": [
        {"data": {"name": "obs"}, "mark": {"type": "rule", "color": "#9a9a9a", "strokeWidth": 1.8, "clip": true},
         "encoding": {
           "x": {"field": "w", "type": "quantitative", "scale": {"domain": [0.065, 8.354], "nice": false, "zero": false}, "axis": {"values": [1,2,3,4,5,6,7,8], "tickCount": 20, "format": "d", "labels": false, "title": null}},
           "y": {"field": "lo", "type": "quantitative", "scale": {"domain": [3564.7, 3690.5], "nice": false, "zero": false}, "axis": {"values": [3580,3600,3620,3640,3660,3680], "tickCount": 20, "format": "d", "labelOverlap": false, "title": "Transit Depth [ppm]"}},
           "y2": {"field": "hi"}}},
        {"data": {"name": "obs"}, "mark": {"type": "tick", "orient": "horizontal", "color": "#9a9a9a", "thickness": 1.5, "size": 8, "clip": true}, "encoding": {"x": {"field": "w", "type": "quantitative"}, "y": {"field": "lo", "type": "quantitative"}}},
        {"data": {"name": "obs"}, "mark": {"type": "tick", "orient": "horizontal", "color": "#9a9a9a", "thickness": 1.5, "size": 8, "clip": true}, "encoding": {"x": {"field": "w", "type": "quantitative"}, "y": {"field": "hi", "type": "quantitative"}}},
        {"data": {"name": "obs"}, "mark": {"type": "point", "shape": "diamond", "filled": true, "fill": "white", "stroke": "#c8c8c8", "strokeWidth": 1.3, "size": 130, "opacity": 1, "clip": true},
         "encoding": {"x": {"field": "w", "type": "quantitative"}, "y": {"field": "d", "type": "quantitative"}}},
        {"data": {"values": [{"src": "Piaulet+2025"}]}, "mark": {"type": "point", "filled": false, "color": "#a8a8a8", "size": 0, "strokeWidth": 1.2},
         "encoding": {"shape": {"field": "src", "type": "nominal", "scale": {"range": ["M0,-0.6L0.5,0L0,0.6L-0.5,0Z M0,-1L0,-0.6 M0,0.6L0,1 M-0.32,-1L0.32,-1 M-0.32,1L0.32,1"]}, "legend": {"title": null, "orient": "top-right", "offset": 6, "padding": 4, "fillColor": "white", "strokeColor": "#d6d6d6", "cornerRadius": 3, "labelFontSize": 12, "labelColor": "#1a1a1a", "symbolSize": 260, "symbolOpacity": 1, "symbolOffset": 8, "labelOffset": 16}}}},
        {"data": {"name": "t2"}, "transform": [{"lookup": "r", "from": {"data": {"name": "runs"}, "key": "r", "fields": ["s", "f"]}}],
         "mark": {"type": "line", "strokeWidth": 1.2, "clip": true},
         "encoding": {
           "x": {"field": "w", "type": "quantitative"}, "y": {"field": "d", "type": "quantitative"},
           "color": {"field": "f", "type": "quantitative", "scale": {"domain": [0.0642, 0.0913], "range": ["#ff0000", "#ffff00"], "interpolate": "rgb"}, "legend": null},
           "strokeDash": {"field": "s", "type": "nominal", "scale": {"domain": ["100 ppm SO₂", "0.1% SO₂", "1% SO₂"], "range": [[1,0],[3.7,1.6],[1,1.65]]}, "legend": null},
           "detail": {"field": "r"}}},
        {"data": {"values": [{"w": 3.78, "d": 3657, "label": "SO₂"}, {"w": 7.62, "d": 3648, "label": "SO₂"}]},
         "mark": {"type": "text", "align": "left", "baseline": "alphabetic", "fontSize": 19, "color": "#111111"},
         "encoding": {"x": {"field": "w", "type": "quantitative"}, "y": {"field": "d", "type": "quantitative"}, "text": {"field": "label"}}}
      ]
    },
    {
      "width": 392, "height": 164,
      "title": {"text": "Fit to Piaulet+2025 [σ]", "orient": "right", "angle": -90, "baseline": "top", "anchor": "middle", "frame": "group", "offset": 6, "fontSize": 14, "fontWeight": "normal", "color": "#1a1a1a"},
      "layer": [
        {"data": {"name": "e2"}, "transform": [{"lookup": "r", "from": {"data": {"name": "runs"}, "key": "r", "fields": ["s", "f"]}}],
         "mark": {"type": "line", "strokeWidth": 1.2, "clip": true},
         "encoding": {
           "x": {"field": "w", "type": "quantitative", "scale": {"domain": [6.51, 17.44], "nice": false, "zero": false}, "axis": {"values": [8,10,12,14,16], "tickCount": 20, "format": "d", "labels": false, "title": null}},
           "y": {"field": "d", "type": "quantitative", "scale": {"domain": [-7.7, 191], "nice": false, "zero": false}, "axis": {"values": [0,50,100,150], "tickCount": 20, "format": "d", "labelOverlap": false, "title": "SE Depth (Dayside Emission) [ppm]"}},
           "color": {"field": "f", "type": "quantitative", "scale": {"domain": [0.0642, 0.0913], "range": ["#ff0000", "#ffff00"], "interpolate": "rgb"},
             "legend": {"type": "gradient", "orient": "right", "offset": 1, "title": null, "gradientLength": 164, "gradientThickness": 20, "gradientStrokeColor": "#444444", "gradientStrokeWidth": 0.8, "labelFontSize": 7.5, "labelOffset": 5, "labelOverlap": false, "labelColor": "#1a1a1a", "padding": 0, "values": [0.065,0.070,0.075,0.080,0.085,0.090], "format": ".3f"}},
           "strokeDash": {"field": "s", "type": "nominal", "scale": {"domain": ["100 ppm SO₂", "0.1% SO₂", "1% SO₂"], "range": [[1,0],[3.7,1.6],[1,1.65]]}, "legend": null},
           "detail": {"field": "r"}}},
        {"data": {"values": [{"w": 6.76, "d": 28.8, "label": "SO₂"}, {"w": 8.09, "d": 43.8, "label": "SO₂"}, {"w": 16.40, "d": 109.9, "label": "SO₂"}]},
         "mark": {"type": "text", "align": "left", "baseline": "alphabetic", "fontSize": 19, "color": "#111111"},
         "encoding": {"x": {"field": "w", "type": "quantitative"}, "y": {"field": "d", "type": "quantitative"}, "text": {"field": "label"}}},
        {"data": {"values": [{"w": 8.03, "d": 152, "label": ">90% O₂-Dominated"}]},
         "mark": {"type": "text", "align": "left", "baseline": "alphabetic", "fontSize": 14, "color": "#111111"},
         "encoding": {"x": {"field": "w", "type": "quantitative"}, "y": {"field": "d", "type": "quantitative"}, "text": {"field": "label"}}}
      ]
    },
    {
      "width": 414, "height": 163,
      "layer": [
        {"data": {"name": "obs"}, "mark": {"type": "rule", "color": "#9a9a9a", "strokeWidth": 1.8, "clip": true},
         "encoding": {
           "x": {"field": "w", "type": "quantitative", "scale": {"domain": [0.065, 8.354], "nice": false, "zero": false}, "axis": {"values": [1,2,3,4,5,6,7,8], "tickCount": 20, "format": "d", "title": "Wavelength [μm]"}},
           "y": {"field": "lo", "type": "quantitative", "scale": {"domain": [3566, 3689.6], "nice": false, "zero": false}, "axis": {"values": [3580,3600,3620,3640,3660,3680], "tickCount": 20, "format": "d", "labelOverlap": false, "title": null}},
           "y2": {"field": "hi"}}},
        {"data": {"name": "obs"}, "mark": {"type": "tick", "orient": "horizontal", "color": "#9a9a9a", "thickness": 1.5, "size": 8, "clip": true}, "encoding": {"x": {"field": "w", "type": "quantitative"}, "y": {"field": "lo", "type": "quantitative"}}},
        {"data": {"name": "obs"}, "mark": {"type": "tick", "orient": "horizontal", "color": "#9a9a9a", "thickness": 1.5, "size": 8, "clip": true}, "encoding": {"x": {"field": "w", "type": "quantitative"}, "y": {"field": "hi", "type": "quantitative"}}},
        {"data": {"name": "obs"}, "mark": {"type": "point", "shape": "diamond", "filled": true, "fill": "white", "stroke": "#c8c8c8", "strokeWidth": 1.3, "size": 130, "opacity": 1, "clip": true},
         "encoding": {"x": {"field": "w", "type": "quantitative"}, "y": {"field": "d", "type": "quantitative"}}},
        {"data": {"values": [{"src": "Piaulet+2025"}]}, "mark": {"type": "point", "filled": false, "color": "#a8a8a8", "size": 0, "strokeWidth": 1.2},
         "encoding": {"shape": {"field": "src", "type": "nominal", "scale": {"range": ["M0,-0.6L0.5,0L0,0.6L-0.5,0Z M0,-1L0,-0.6 M0,0.6L0,1 M-0.32,-1L0.32,-1 M-0.32,1L0.32,1"]}, "legend": {"title": null, "orient": "top-right", "offset": 6, "padding": 4, "fillColor": "white", "strokeColor": "#d6d6d6", "cornerRadius": 3, "labelFontSize": 12, "labelColor": "#1a1a1a", "symbolSize": 260, "symbolOpacity": 1, "symbolOffset": 8, "labelOffset": 16}}}},
        {"data": {"name": "t3"}, "transform": [{"lookup": "r", "from": {"data": {"name": "runs"}, "key": "r", "fields": ["s", "f"]}}],
         "mark": {"type": "line", "strokeWidth": 1.2, "clip": true},
         "encoding": {
           "x": {"field": "w", "type": "quantitative"}, "y": {"field": "d", "type": "quantitative"},
           "color": {"field": "f", "type": "quantitative", "scale": {"domain": [0.0685, 0.0850], "range": ["#0000ff", "#00ff80"], "interpolate": "rgb"}, "legend": null},
           "strokeDash": {"field": "s", "type": "nominal", "scale": {"domain": ["100 ppm SO₂", "0.1% SO₂", "1% SO₂"], "range": [[1,0],[3.7,1.6],[1,1.65]]}, "legend": null},
           "detail": {"field": "r"}}},
        {"data": {"values": [{"w": 3.75, "d": 3649.8, "label": "SO₂"}, {"w": 7.61, "d": 3648.3, "label": "SO₂"}]},
         "mark": {"type": "text", "align": "left", "baseline": "alphabetic", "fontSize": 19, "color": "#111111"},
         "encoding": {"x": {"field": "w", "type": "quantitative"}, "y": {"field": "d", "type": "quantitative"}, "text": {"field": "label"}}}
      ]
    },
    {
      "width": 392, "height": 163,
      "layer": [
        {"data": {"name": "e3"}, "transform": [{"lookup": "r", "from": {"data": {"name": "runs"}, "key": "r", "fields": ["s", "f"]}}],
         "mark": {"type": "line", "strokeWidth": 1.2, "clip": true},
         "encoding": {
           "x": {"field": "w", "type": "quantitative", "scale": {"domain": [6.51, 17.44], "nice": false, "zero": false}, "axis": {"values": [8,10,12,14,16], "tickCount": 20, "format": "d", "title": "Wavelength [μm]"}},
           "y": {"field": "d", "type": "quantitative", "scale": {"domain": [-0.4, 189.7], "nice": false, "zero": false}, "axis": {"values": [0,50,100,150], "tickCount": 20, "format": "d", "labelOverlap": false, "title": null}},
           "color": {"field": "f", "type": "quantitative", "scale": {"domain": [0.0685, 0.0850], "range": ["#0000ff", "#00ff80"], "interpolate": "rgb"},
             "legend": {"type": "gradient", "orient": "right", "offset": 1, "title": null, "gradientLength": 163, "gradientThickness": 20, "gradientStrokeColor": "#444444", "gradientStrokeWidth": 0.8, "labelFontSize": 7.5, "labelOffset": 5, "labelOverlap": false, "labelColor": "#1a1a1a", "padding": 0, "values": [0.070,0.072,0.074,0.076,0.078,0.080,0.082,0.084], "format": ".3f"}},
           "strokeDash": {"field": "s", "type": "nominal", "scale": {"domain": ["100 ppm SO₂", "0.1% SO₂", "1% SO₂"], "range": [[1,0],[3.7,1.6],[1,1.65]]}, "legend": null},
           "detail": {"field": "r"}}},
        {"data": {"values": [{"w": 6.76, "d": 27.3, "label": "SO₂"}, {"w": 8.11, "d": 46.8, "label": "SO₂"}]},
         "mark": {"type": "text", "align": "left", "baseline": "alphabetic", "fontSize": 19, "color": "#111111"},
         "encoding": {"x": {"field": "w", "type": "quantitative"}, "y": {"field": "d", "type": "quantitative"}, "text": {"field": "label"}}},
        {"data": {"values": [{"w": 8.03, "d": 150.8, "label": "Mixed H₂O-O₂"}]},
         "mark": {"type": "text", "align": "left", "baseline": "alphabetic", "fontSize": 14, "color": "#111111"},
         "encoding": {"x": {"field": "w", "type": "quantitative"}, "y": {"field": "d", "type": "quantitative"}, "text": {"field": "label"}}}
      ]
    },
    {"width": 414, "height": 38, "view": {"stroke": null}, "data": {"values": [{"gap": "between sections"}]}, "mark": {"type": "rect", "opacity": 0}, "encoding": {}},
    {"width": 392, "height": 38, "view": {"stroke": null}, "data": {"values": [{"gap": "between sections"}]}, "mark": {"type": "rect", "opacity": 0}, "encoding": {}},
    {
      "width": 414, "height": 209,
      "view": {"stroke": null},
      "title": {"text": "TRAPPIST-1d, H₂O & CO₂-Outgassed Atmospheres", "anchor": "middle", "frame": "group", "dx": 230, "offset": -22, "fontSize": 14.4, "fontWeight": "bold", "color": "#000000"},
      "layer": [
        {"data": {"values": [{"panel": "H₂O & CO₂-Outgassed Atmospheres"}]},
         "mark": {"type": "rect", "fill": "#d6dbd5", "stroke": "#d6dbd5", "strokeWidth": 150, "xOffset": 461, "yOffset": 49, "clip": false},
         "encoding": {}},
        {"data": {"values": [{"panel": "plot area"}]},
         "mark": {"type": "rect", "fill": "white", "stroke": "#1a1a1a", "strokeWidth": 1, "clip": false},
         "encoding": {}},
        {"data": {"name": "obs"}, "mark": {"type": "rule", "color": "#9a9a9a", "strokeWidth": 1.8, "clip": true},
         "encoding": {
           "x": {"field": "w", "type": "quantitative", "scale": {"domain": [0.065, 8.354], "nice": false, "zero": false}, "axis": {"values": [1,2,3,4,5,6,7,8], "tickCount": 20, "format": "d", "title": "Wavelength [μm]", "zindex": 1}},
           "y": {"field": "lo", "type": "quantitative", "scale": {"domain": [3519.9, 3731.7], "nice": false, "zero": false}, "axis": {"values": [3525,3550,3575,3600,3625,3650,3675,3700,3725], "tickCount": 20, "format": "d", "labelOverlap": false, "title": "Transit Depth [ppm]", "zindex": 1}},
           "y2": {"field": "hi"}}},
        {"data": {"name": "obs"}, "mark": {"type": "tick", "orient": "horizontal", "color": "#9a9a9a", "thickness": 1.5, "size": 8, "clip": true}, "encoding": {"x": {"field": "w", "type": "quantitative"}, "y": {"field": "lo", "type": "quantitative"}}},
        {"data": {"name": "obs"}, "mark": {"type": "tick", "orient": "horizontal", "color": "#9a9a9a", "thickness": 1.5, "size": 8, "clip": true}, "encoding": {"x": {"field": "w", "type": "quantitative"}, "y": {"field": "hi", "type": "quantitative"}}},
        {"data": {"name": "obs"}, "mark": {"type": "point", "shape": "diamond", "filled": true, "fill": "white", "stroke": "#c8c8c8", "strokeWidth": 1.3, "size": 130, "opacity": 1, "clip": true},
         "encoding": {"x": {"field": "w", "type": "quantitative"}, "y": {"field": "d", "type": "quantitative"}}},
        {"data": {"values": [{"src": "Piaulet+2025"}]}, "mark": {"type": "point", "filled": false, "color": "#a8a8a8", "size": 0, "strokeWidth": 1.2},
         "encoding": {"shape": {"field": "src", "type": "nominal", "scale": {"range": ["M0,-0.6L0.5,0L0,0.6L-0.5,0Z M0,-1L0,-0.6 M0,0.6L0,1 M-0.32,-1L0.32,-1 M-0.32,1L0.32,1"]}, "legend": {"title": null, "orient": "top-right", "offset": 6, "padding": 4, "fillColor": "white", "strokeColor": "#d6d6d6", "cornerRadius": 3, "labelFontSize": 12, "labelColor": "#1a1a1a", "symbolSize": 260, "symbolOpacity": 1, "symbolOffset": 8, "labelOffset": 16, "zindex": 1}}}},
        {"data": {"name": "t4"}, "transform": [{"filter": "datum.r != '4d'"}, {"lookup": "r", "from": {"data": {"name": "runs"}, "key": "r", "fields": ["s", "f"]}}],
         "mark": {"type": "line", "strokeWidth": 1.3, "clip": true},
         "encoding": {
           "x": {"field": "w", "type": "quantitative"}, "y": {"field": "d", "type": "quantitative"},
           "color": {"field": "f", "type": "quantitative", "scale": {"domain": [0.146, 0.49], "range": ["#00ffff", "#ff00ff"], "interpolate": "rgb"}, "legend": null},
           "strokeDash": {"field": "s", "type": "nominal", "scale": {"domain": ["100 ppm SO₂", "0.1% SO₂", "1% SO₂"], "range": [[1,0],[3.7,1.6],[1,1.65]]},
             "legend": {"orient": "none", "legendX": 216, "legendY": 248, "direction": "horizontal", "columns": 3, "title": null, "fillColor": "#f6f7f5", "strokeColor": "#c8c8c8", "cornerRadius": 3, "padding": 3, "labelFontSize": 12, "labelColor": "#1a1a1a", "symbolType": "stroke", "symbolStrokeColor": "#8a8a8a", "symbolStrokeWidth": 1, "symbolSize": 625, "columnPadding": 27, "labelOffset": 11, "zindex": 1}},
           "detail": {"field": "r"}}},
        {"data": {"name": "t4"}, "transform": [{"filter": "datum.r == '4d'"}, {"lookup": "r", "from": {"data": {"name": "runs"}, "key": "r", "fields": ["s", "f"]}}],
         "mark": {"type": "line", "strokeWidth": 2.4, "clip": true},
         "encoding": {
           "x": {"field": "w", "type": "quantitative"}, "y": {"field": "d", "type": "quantitative"},
           "color": {"field": "f", "type": "quantitative"},
           "strokeDash": {"field": "s", "type": "nominal"},
           "detail": {"field": "r"}}},
        {"data": {"values": [{"w": 3.43, "d": 3678, "label": "SO₂"}, {"w": 7.57, "d": 3673, "label": "SO₂"}]},
         "mark": {"type": "text", "align": "left", "baseline": "alphabetic", "fontSize": 19, "color": "#111111"},
         "encoding": {"x": {"field": "w", "type": "quantitative"}, "y": {"field": "d", "type": "quantitative"}, "text": {"field": "label"}}}
      ]
    },
    {
      "width": 392, "height": 209,
      "view": {"fill": "white"},
      "title": {"text": "Fit to Piaulet+2025 [σ]", "orient": "right", "angle": -90, "baseline": "top", "anchor": "middle", "frame": "group", "offset": 6, "dx": 110, "fontSize": 14, "fontWeight": "normal", "color": "#1a1a1a"},
      "layer": [
        {"data": {"name": "e4"}, "transform": [{"filter": "datum.r != '4d'"}, {"lookup": "r", "from": {"data": {"name": "runs"}, "key": "r", "fields": ["s", "f"]}}],
         "mark": {"type": "line", "strokeWidth": 1.3, "clip": true},
         "encoding": {
           "x": {"field": "w", "type": "quantitative", "scale": {"domain": [6.51, 17.44], "nice": false, "zero": false}, "axis": {"values": [8,10,12,14,16], "tickCount": 20, "format": "d", "title": "Wavelength [μm]"}},
           "y": {"field": "d", "type": "quantitative", "scale": {"domain": [-8.3, 184.9], "nice": false, "zero": false}, "axis": {"values": [0,25,50,75,100,125,150,175], "tickCount": 20, "format": "d", "labelOverlap": false, "title": "SE Depth (Dayside) [ppm]"}},
           "color": {"field": "f", "type": "quantitative", "scale": {"domain": [0.146, 0.49], "range": ["#00ffff", "#ff00ff"], "interpolate": "rgb"},
             "legend": {"type": "gradient", "orient": "right", "offset": 1, "title": null, "gradientLength": 209, "gradientThickness": 20, "gradientStrokeColor": "#444444", "gradientStrokeWidth": 0.8, "labelFontSize": 7.5, "labelOffset": 5, "labelOverlap": false, "labelColor": "#1a1a1a", "padding": 0, "values": [0.15,0.20,0.25,0.30,0.35,0.40,0.45], "format": ".2f"}},
           "strokeDash": {"field": "s", "type": "nominal", "scale": {"domain": ["100 ppm SO₂", "0.1% SO₂", "1% SO₂"], "range": [[1,0],[3.7,1.6],[1,1.65]]}, "legend": null},
           "detail": {"field": "r"}}},
        {"data": {"name": "e4"}, "transform": [{"filter": "datum.r == '4d'"}, {"lookup": "r", "from": {"data": {"name": "runs"}, "key": "r", "fields": ["s", "f"]}}],
         "mark": {"type": "line", "strokeWidth": 2.4, "clip": true},
         "encoding": {
           "x": {"field": "w", "type": "quantitative"}, "y": {"field": "d", "type": "quantitative"},
           "color": {"field": "f", "type": "quantitative"},
           "strokeDash": {"field": "s", "type": "nominal"},
           "detail": {"field": "r"}}},
        {"data": {"values": [{"w": 6.76, "d": 31.7, "label": "SO₂"}, {"w": 8.11, "d": 46.2, "label": "SO₂"}]},
         "mark": {"type": "text", "align": "left", "baseline": "alphabetic", "fontSize": 19, "color": "#111111"},
         "encoding": {"x": {"field": "w", "type": "quantitative"}, "y": {"field": "d", "type": "quantitative"}, "text": {"field": "label"}}},
        {"data": {"values": [{"w": 8.03, "d": 150.4, "label": "Mixed CO₂-CO"}]},
         "mark": {"type": "text", "align": "left", "baseline": "alphabetic", "fontSize": 14, "color": "#111111"},
         "encoding": {"x": {"field": "w", "type": "quantitative"}, "y": {"field": "d", "type": "quantitative"}, "text": {"field": "label"}}}
      ]
    }
  ]
}
